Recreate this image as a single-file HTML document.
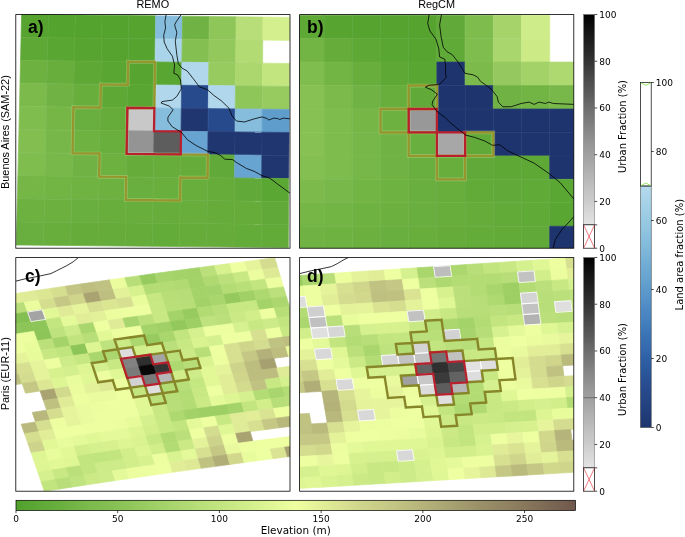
<!DOCTYPE html>
<html lang="en"><head><meta charset="utf-8"><title>Urban fraction, land area fraction and elevation: REMO vs RegCM</title>
<style>html,body{margin:0;padding:0;background:#fff}svg{display:block}</style></head><body>
<svg width="685" height="537" viewBox="0 0 685 537">
<defs>
<clipPath id="clipa"><rect x="15.8" y="14.6" width="274.2" height="233.6"/></clipPath>
<clipPath id="clipb"><rect x="299.6" y="14.6" width="274.2" height="233.6"/></clipPath>
<clipPath id="clipc"><rect x="15.8" y="257.6" width="274.2" height="233.6"/></clipPath>
<clipPath id="clipd"><rect x="299.6" y="257.6" width="274.2" height="233.6"/></clipPath>
<linearGradient id="gElev" x1="0" y1="0" x2="1" y2="0">
<stop offset="0" stop-color="#50a02c"/>
<stop offset="0.04" stop-color="#5da836"/>
<stop offset="0.08" stop-color="#6ab03f"/>
<stop offset="0.12" stop-color="#78b849"/>
<stop offset="0.17" stop-color="#85c053"/>
<stop offset="0.21" stop-color="#92c85c"/>
<stop offset="0.25" stop-color="#9fd066"/>
<stop offset="0.29" stop-color="#acd770"/>
<stop offset="0.33" stop-color="#b9df79"/>
<stop offset="0.38" stop-color="#c6e783"/>
<stop offset="0.42" stop-color="#d4ef8d"/>
<stop offset="0.46" stop-color="#e1f796"/>
<stop offset="0.5" stop-color="#eeffa0"/>
<stop offset="0.54" stop-color="#e4f199"/>
<stop offset="0.58" stop-color="#d9e392"/>
<stop offset="0.62" stop-color="#ced58b"/>
<stop offset="0.67" stop-color="#c4c784"/>
<stop offset="0.71" stop-color="#bab97d"/>
<stop offset="0.75" stop-color="#afac76"/>
<stop offset="0.79" stop-color="#a49e6f"/>
<stop offset="0.83" stop-color="#9a9068"/>
<stop offset="0.88" stop-color="#908261"/>
<stop offset="0.92" stop-color="#85745a"/>
<stop offset="0.96" stop-color="#7a6653"/>
<stop offset="1" stop-color="#70584c"/>
</linearGradient>
<linearGradient id="gGrey" x1="0" y1="1" x2="0" y2="0">
<stop offset="0" stop-color="#e4e4e4"/>
<stop offset="0.04" stop-color="#dbdbdb"/>
<stop offset="0.08" stop-color="#d3d3d3"/>
<stop offset="0.12" stop-color="#cacaca"/>
<stop offset="0.17" stop-color="#c2c2c2"/>
<stop offset="0.21" stop-color="#b9b9b9"/>
<stop offset="0.25" stop-color="#b1b1b1"/>
<stop offset="0.29" stop-color="#a8a8a8"/>
<stop offset="0.33" stop-color="#a0a0a0"/>
<stop offset="0.38" stop-color="#979797"/>
<stop offset="0.42" stop-color="#8d8d8d"/>
<stop offset="0.46" stop-color="#848484"/>
<stop offset="0.5" stop-color="#7a7a7a"/>
<stop offset="0.54" stop-color="#717171"/>
<stop offset="0.58" stop-color="#676767"/>
<stop offset="0.62" stop-color="#5c5c5c"/>
<stop offset="0.67" stop-color="#515151"/>
<stop offset="0.71" stop-color="#464646"/>
<stop offset="0.75" stop-color="#3b3b3b"/>
<stop offset="0.79" stop-color="#313131"/>
<stop offset="0.83" stop-color="#272727"/>
<stop offset="0.88" stop-color="#1d1d1d"/>
<stop offset="0.92" stop-color="#141414"/>
<stop offset="0.96" stop-color="#0a0a0a"/>
<stop offset="1" stop-color="#000000"/>
</linearGradient>
<linearGradient id="gBlue" x1="0" y1="1" x2="0" y2="0">
<stop offset="0" stop-color="#1e346e"/>
<stop offset="0.04" stop-color="#203a76"/>
<stop offset="0.08" stop-color="#23407e"/>
<stop offset="0.12" stop-color="#254686"/>
<stop offset="0.17" stop-color="#274c8f"/>
<stop offset="0.21" stop-color="#2a5397"/>
<stop offset="0.25" stop-color="#2c5a9f"/>
<stop offset="0.29" stop-color="#2f61a7"/>
<stop offset="0.33" stop-color="#356aae"/>
<stop offset="0.38" stop-color="#3a73b5"/>
<stop offset="0.42" stop-color="#407cbc"/>
<stop offset="0.46" stop-color="#4784c1"/>
<stop offset="0.5" stop-color="#4f8cc5"/>
<stop offset="0.54" stop-color="#5794c9"/>
<stop offset="0.58" stop-color="#5e9ccd"/>
<stop offset="0.62" stop-color="#67a4d0"/>
<stop offset="0.67" stop-color="#70abd4"/>
<stop offset="0.71" stop-color="#79b3d8"/>
<stop offset="0.75" stop-color="#82badb"/>
<stop offset="0.79" stop-color="#8ac0de"/>
<stop offset="0.83" stop-color="#93c6e1"/>
<stop offset="0.88" stop-color="#9ccce4"/>
<stop offset="0.92" stop-color="#a4d1e7"/>
<stop offset="0.96" stop-color="#add5ea"/>
<stop offset="1" stop-color="#b6daed"/>
</linearGradient>
</defs>
<rect width="685" height="537" fill="#fff"/>
<g clip-path="url(#clipa)">
<g shape-rendering="geometricPrecision">
<polygon points="21.6,14.3 48.42,14.61 47.93,37.67 21.07,37.37" fill="#56a330" stroke="#56a330" stroke-width="0.7"/>
<polygon points="48.42,14.61 75.24,14.92 74.79,37.98 47.93,37.67" fill="#55a32f" stroke="#55a32f" stroke-width="0.7"/>
<polygon points="75.24,14.92 102.06,15.23 101.64,38.29 74.79,37.98" fill="#55a32f" stroke="#55a32f" stroke-width="0.7"/>
<polygon points="102.06,15.23 128.88,15.54 128.5,38.59 101.64,38.29" fill="#55a32f" stroke="#55a32f" stroke-width="0.7"/>
<polygon points="128.88,15.54 155.7,15.85 155.36,38.9 128.5,38.59" fill="#56a330" stroke="#56a330" stroke-width="0.7"/>
<polygon points="155.7,15.85 182.52,16.16 182.22,39.2 155.36,38.9" fill="#86bddc" stroke="#86bddc" stroke-width="0.7"/>
<polygon points="182.52,16.16 209.34,16.47 209.08,39.51 182.22,39.2" fill="#70b344" stroke="#70b344" stroke-width="0.7"/>
<polygon points="209.34,16.47 236.16,16.78 235.93,39.81 209.08,39.51" fill="#8fc65a" stroke="#8fc65a" stroke-width="0.7"/>
<polygon points="236.16,16.78 262.98,17.09 262.79,40.11 235.93,39.81" fill="#b7de78" stroke="#b7de78" stroke-width="0.7"/>
<polygon points="262.98,17.09 289.8,17.4 289.65,40.42 262.79,40.11" fill="#d4ef8d" stroke="#d4ef8d" stroke-width="0.7"/>
<polygon points="21.07,37.37 47.93,37.67 47.44,60.74 20.54,60.44" fill="#5ea836" stroke="#5ea836" stroke-width="0.7"/>
<polygon points="47.93,37.67 74.79,37.98 74.33,61.04 47.44,60.74" fill="#59a633" stroke="#59a633" stroke-width="0.7"/>
<polygon points="74.79,37.98 101.64,38.29 101.23,61.34 74.33,61.04" fill="#57a431" stroke="#57a431" stroke-width="0.7"/>
<polygon points="101.64,38.29 128.5,38.59 128.12,61.64 101.23,61.34" fill="#56a330" stroke="#56a330" stroke-width="0.7"/>
<polygon points="128.5,38.59 155.36,38.9 155.02,61.94 128.12,61.64" fill="#56a330" stroke="#56a330" stroke-width="0.7"/>
<polygon points="155.36,38.9 182.22,39.2 181.92,62.24 155.02,61.94" fill="#aad4e9" stroke="#aad4e9" stroke-width="0.7"/>
<polygon points="182.22,39.2 209.08,39.51 208.81,62.54 181.92,62.24" fill="#84bf52" stroke="#84bf52" stroke-width="0.7"/>
<polygon points="209.08,39.51 235.93,39.81 235.71,62.84 208.81,62.54" fill="#93c85d" stroke="#93c85d" stroke-width="0.7"/>
<polygon points="235.93,39.81 262.79,40.11 262.6,63.14 235.71,62.84" fill="#b2db74" stroke="#b2db74" stroke-width="0.7"/>
<polygon points="20.54,60.44 47.44,60.74 46.94,83.8 20.01,83.51" fill="#6db141" stroke="#6db141" stroke-width="0.7"/>
<polygon points="47.44,60.74 74.33,61.04 73.88,84.1 46.94,83.8" fill="#67ae3d" stroke="#67ae3d" stroke-width="0.7"/>
<polygon points="74.33,61.04 101.23,61.34 100.81,84.39 73.88,84.1" fill="#5ea836" stroke="#5ea836" stroke-width="0.7"/>
<polygon points="101.23,61.34 128.12,61.64 127.75,84.69 100.81,84.39" fill="#59a633" stroke="#59a633" stroke-width="0.7"/>
<polygon points="128.12,61.64 155.02,61.94 154.68,84.98 127.75,84.69" fill="#57a431" stroke="#57a431" stroke-width="0.7"/>
<polygon points="155.02,61.94 181.92,62.24 181.61,85.28 154.68,84.98" fill="#59a633" stroke="#59a633" stroke-width="0.7"/>
<polygon points="181.92,62.24 208.81,62.54 208.55,85.57 181.61,85.28" fill="#b0d7eb" stroke="#b0d7eb" stroke-width="0.7"/>
<polygon points="208.81,62.54 235.71,62.84 235.48,85.87 208.55,85.57" fill="#97cb60" stroke="#97cb60" stroke-width="0.7"/>
<polygon points="235.71,62.84 262.6,63.14 262.42,86.16 235.48,85.87" fill="#acd76f" stroke="#acd76f" stroke-width="0.7"/>
<polygon points="262.6,63.14 289.5,63.44 289.35,86.46 262.42,86.16" fill="#c3e580" stroke="#c3e580" stroke-width="0.7"/>
<polygon points="20.01,83.51 46.94,83.8 46.45,106.87 19.48,106.58" fill="#7cba4c" stroke="#7cba4c" stroke-width="0.7"/>
<polygon points="46.94,83.8 73.88,84.1 73.42,107.16 46.45,106.87" fill="#70b344" stroke="#70b344" stroke-width="0.7"/>
<polygon points="73.88,84.1 100.81,84.39 100.4,107.45 73.42,107.16" fill="#67ae3d" stroke="#67ae3d" stroke-width="0.7"/>
<polygon points="100.81,84.39 127.75,84.69 127.37,107.74 100.4,107.45" fill="#5ea836" stroke="#5ea836" stroke-width="0.7"/>
<polygon points="127.75,84.69 154.68,84.98 154.34,108.03 127.37,107.74" fill="#59a633" stroke="#59a633" stroke-width="0.7"/>
<polygon points="154.68,84.98 181.61,85.28 181.31,108.32 154.34,108.03" fill="#b0d7eb" stroke="#b0d7eb" stroke-width="0.7"/>
<polygon points="181.61,85.28 208.55,85.57 208.28,108.61 181.31,108.32" fill="#274a8d" stroke="#274a8d" stroke-width="0.7"/>
<polygon points="208.55,85.57 235.48,85.87 235.26,108.9 208.28,108.61" fill="#b0d7eb" stroke="#b0d7eb" stroke-width="0.7"/>
<polygon points="235.48,85.87 262.42,86.16 262.23,109.19 235.26,108.9" fill="#8fc65a" stroke="#8fc65a" stroke-width="0.7"/>
<polygon points="262.42,86.16 289.35,86.46 289.2,109.48 262.23,109.19" fill="#97cb60" stroke="#97cb60" stroke-width="0.7"/>
<polygon points="19.48,106.58 46.45,106.87 45.96,129.94 18.95,129.65" fill="#80bd4f" stroke="#80bd4f" stroke-width="0.7"/>
<polygon points="46.45,106.87 73.42,107.16 72.97,130.22 45.96,129.94" fill="#75b647" stroke="#75b647" stroke-width="0.7"/>
<polygon points="73.42,107.16 100.4,107.45 99.98,130.5 72.97,130.22" fill="#69af3f" stroke="#69af3f" stroke-width="0.7"/>
<polygon points="100.4,107.45 127.37,107.74 126.99,130.79 99.98,130.5" fill="#65ac3b" stroke="#65ac3b" stroke-width="0.7"/>
<polygon points="127.37,107.74 154.34,108.03 154,131.08 126.99,130.79" fill="#c8c8c8" stroke="#c8c8c8" stroke-width="0.7"/>
<polygon points="154.34,108.03 181.31,108.32 181.01,131.36 154,131.08" fill="#86bddc" stroke="#86bddc" stroke-width="0.7"/>
<polygon points="181.31,108.32 208.28,108.61 208.02,131.64 181.01,131.36" fill="#1f3671" stroke="#1f3671" stroke-width="0.7"/>
<polygon points="208.28,108.61 235.26,108.9 235.03,131.93 208.02,131.64" fill="#274a8d" stroke="#274a8d" stroke-width="0.7"/>
<polygon points="235.26,108.9 262.23,109.19 262.04,132.22 235.03,131.93" fill="#86bddc" stroke="#86bddc" stroke-width="0.7"/>
<polygon points="262.23,109.19 289.2,109.48 289.05,132.5 262.04,132.22" fill="#5f9dcd" stroke="#5f9dcd" stroke-width="0.7"/>
<polygon points="18.95,129.65 45.96,129.94 45.47,153 18.42,152.72" fill="#83be51" stroke="#83be51" stroke-width="0.7"/>
<polygon points="45.96,129.94 72.97,130.22 72.52,153.28 45.47,153" fill="#77b749" stroke="#77b749" stroke-width="0.7"/>
<polygon points="72.97,130.22 99.98,130.5 99.56,153.56 72.52,153.28" fill="#6eb242" stroke="#6eb242" stroke-width="0.7"/>
<polygon points="99.98,130.5 126.99,130.79 126.61,153.84 99.56,153.56" fill="#68af3e" stroke="#68af3e" stroke-width="0.7"/>
<polygon points="126.99,130.79 154,131.08 153.66,154.12 126.61,153.84" fill="#949494" stroke="#949494" stroke-width="0.7"/>
<polygon points="154,131.08 181.01,131.36 180.71,154.4 153.66,154.12" fill="#5d5d5d" stroke="#5d5d5d" stroke-width="0.7"/>
<polygon points="181.01,131.36 208.02,131.64 207.76,154.68 180.71,154.4" fill="#68a4d1" stroke="#68a4d1" stroke-width="0.7"/>
<polygon points="208.02,131.64 235.03,131.93 234.8,154.96 207.76,154.68" fill="#1f3671" stroke="#1f3671" stroke-width="0.7"/>
<polygon points="235.03,131.93 262.04,132.22 261.85,155.24 234.8,154.96" fill="#1f3671" stroke="#1f3671" stroke-width="0.7"/>
<polygon points="262.04,132.22 289.05,132.5 288.9,155.52 261.85,155.24" fill="#1f3671" stroke="#1f3671" stroke-width="0.7"/>
<polygon points="18.42,152.72 45.47,153 44.98,176.06 17.89,175.79" fill="#80bd4f" stroke="#80bd4f" stroke-width="0.7"/>
<polygon points="45.47,153 72.52,153.28 72.06,176.34 44.98,176.06" fill="#78b84a" stroke="#78b84a" stroke-width="0.7"/>
<polygon points="72.52,153.28 99.56,153.56 99.15,176.61 72.06,176.34" fill="#70b344" stroke="#70b344" stroke-width="0.7"/>
<polygon points="99.56,153.56 126.61,153.84 126.23,176.89 99.15,176.61" fill="#6db141" stroke="#6db141" stroke-width="0.7"/>
<polygon points="126.61,153.84 153.66,154.12 153.32,177.16 126.23,176.89" fill="#65ac3b" stroke="#65ac3b" stroke-width="0.7"/>
<polygon points="153.66,154.12 180.71,154.4 180.41,177.44 153.32,177.16" fill="#66ad3c" stroke="#66ad3c" stroke-width="0.7"/>
<polygon points="180.71,154.4 207.76,154.68 207.49,177.71 180.41,177.44" fill="#65ac3b" stroke="#65ac3b" stroke-width="0.7"/>
<polygon points="207.76,154.68 234.8,154.96 234.58,177.99 207.49,177.71" fill="#61aa39" stroke="#61aa39" stroke-width="0.7"/>
<polygon points="234.8,154.96 261.85,155.24 261.66,178.27 234.58,177.99" fill="#68a4d1" stroke="#68a4d1" stroke-width="0.7"/>
<polygon points="261.85,155.24 288.9,155.52 288.75,178.54 261.66,178.27" fill="#1f3671" stroke="#1f3671" stroke-width="0.7"/>
<polygon points="17.89,175.79 44.98,176.06 44.48,199.13 17.36,198.86" fill="#75b647" stroke="#75b647" stroke-width="0.7"/>
<polygon points="44.98,176.06 72.06,176.34 71.61,199.4 44.48,199.13" fill="#72b545" stroke="#72b545" stroke-width="0.7"/>
<polygon points="72.06,176.34 99.15,176.61 98.73,199.67 71.61,199.4" fill="#6fb343" stroke="#6fb343" stroke-width="0.7"/>
<polygon points="99.15,176.61 126.23,176.89 125.86,199.94 98.73,199.67" fill="#6db141" stroke="#6db141" stroke-width="0.7"/>
<polygon points="126.23,176.89 153.32,177.16 152.98,200.21 125.86,199.94" fill="#69af3f" stroke="#69af3f" stroke-width="0.7"/>
<polygon points="153.32,177.16 180.41,177.44 180.1,200.48 152.98,200.21" fill="#68af3e" stroke="#68af3e" stroke-width="0.7"/>
<polygon points="180.41,177.44 207.49,177.71 207.23,200.75 180.1,200.48" fill="#67ae3d" stroke="#67ae3d" stroke-width="0.7"/>
<polygon points="207.49,177.71 234.58,177.99 234.35,201.02 207.23,200.75" fill="#65ac3b" stroke="#65ac3b" stroke-width="0.7"/>
<polygon points="234.58,177.99 261.66,178.27 261.48,201.29 234.35,201.02" fill="#61aa39" stroke="#61aa39" stroke-width="0.7"/>
<polygon points="261.66,178.27 288.75,178.54 288.6,201.56 261.48,201.29" fill="#5ba734" stroke="#5ba734" stroke-width="0.7"/>
<polygon points="17.36,198.86 44.48,199.13 43.99,222.2 16.83,221.93" fill="#6db141" stroke="#6db141" stroke-width="0.7"/>
<polygon points="44.48,199.13 71.61,199.4 71.15,222.46 43.99,222.2" fill="#6cb140" stroke="#6cb140" stroke-width="0.7"/>
<polygon points="71.61,199.4 98.73,199.67 98.32,222.72 71.15,222.46" fill="#69af3f" stroke="#69af3f" stroke-width="0.7"/>
<polygon points="98.73,199.67 125.86,199.94 125.48,222.99 98.32,222.72" fill="#67ae3d" stroke="#67ae3d" stroke-width="0.7"/>
<polygon points="125.86,199.94 152.98,200.21 152.64,223.26 125.48,222.99" fill="#67ae3d" stroke="#67ae3d" stroke-width="0.7"/>
<polygon points="152.98,200.21 180.1,200.48 179.8,223.52 152.64,223.26" fill="#66ad3c" stroke="#66ad3c" stroke-width="0.7"/>
<polygon points="180.1,200.48 207.23,200.75 206.96,223.78 179.8,223.52" fill="#67ae3d" stroke="#67ae3d" stroke-width="0.7"/>
<polygon points="207.23,200.75 234.35,201.02 234.13,224.05 206.96,223.78" fill="#65ac3b" stroke="#65ac3b" stroke-width="0.7"/>
<polygon points="234.35,201.02 261.48,201.29 261.29,224.31 234.13,224.05" fill="#65ac3b" stroke="#65ac3b" stroke-width="0.7"/>
<polygon points="261.48,201.29 288.6,201.56 288.45,224.58 261.29,224.31" fill="#61aa39" stroke="#61aa39" stroke-width="0.7"/>
<polygon points="16.83,221.93 43.99,222.2 43.5,245.26 16.3,245" fill="#69af3f" stroke="#69af3f" stroke-width="0.7"/>
<polygon points="43.99,222.2 71.15,222.46 70.7,245.52 43.5,245.26" fill="#67ae3d" stroke="#67ae3d" stroke-width="0.7"/>
<polygon points="71.15,222.46 98.32,222.72 97.9,245.78 70.7,245.52" fill="#65ac3b" stroke="#65ac3b" stroke-width="0.7"/>
<polygon points="98.32,222.72 125.48,222.99 125.1,246.04 97.9,245.78" fill="#65ac3b" stroke="#65ac3b" stroke-width="0.7"/>
<polygon points="125.48,222.99 152.64,223.26 152.3,246.3 125.1,246.04" fill="#65ac3b" stroke="#65ac3b" stroke-width="0.7"/>
<polygon points="152.64,223.26 179.8,223.52 179.5,246.56 152.3,246.3" fill="#64ac3a" stroke="#64ac3a" stroke-width="0.7"/>
<polygon points="179.8,223.52 206.96,223.78 206.7,246.82 179.5,246.56" fill="#65ac3b" stroke="#65ac3b" stroke-width="0.7"/>
<polygon points="206.96,223.78 234.13,224.05 233.9,247.08 206.7,246.82" fill="#65ac3b" stroke="#65ac3b" stroke-width="0.7"/>
<polygon points="234.13,224.05 261.29,224.31 261.1,247.34 233.9,247.08" fill="#64ac3a" stroke="#64ac3a" stroke-width="0.7"/>
<polygon points="261.29,224.31 288.45,224.58 288.3,247.6 261.1,247.34" fill="#62ab39" stroke="#62ab39" stroke-width="0.7"/>
</g>
<path d="M21.6 14.3L289.8 17.4M21.07 37.37L289.65 40.42M20.54 60.44L289.5 63.44M20.01 83.51L289.35 86.46M19.48 106.58L289.2 109.48M18.95 129.65L289.05 132.5M18.42 152.72L288.9 155.52M17.89 175.79L288.75 178.54M17.36 198.86L288.6 201.56M16.83 221.93L288.45 224.58M16.3 245L288.3 247.6M21.6 14.3L16.3 245M48.42 14.61L43.5 245.26M75.24 14.92L70.7 245.52M102.06 15.23L97.9 245.78M128.88 15.54L125.1 246.04M155.7 15.85L152.3 246.3M182.52 16.16L179.5 246.56M209.34 16.47L206.7 246.82M236.16 16.78L233.9 247.08M262.98 17.09L261.1 247.34M289.8 17.4L288.3 247.6" fill="none" stroke="#ffffff" stroke-opacity="0.08" stroke-width="0.6"/>
<path d="M73.42 107.16L100.4 107.45M73.42 107.16L72.97 130.22M127.37 107.74L126.99 130.79M127.37 107.74L154.34 108.03M154.68 84.98L154.34 108.03M126.61 153.84L153.66 154.12M128.12 61.64L155.02 61.94M128.12 61.64L127.75 84.69M155.02 61.94L154.68 84.98M152.98 200.21L180.1 200.48M180.41 177.44L180.1 200.48M100.81 84.39L127.75 84.69M100.81 84.39L100.4 107.45M153.66 154.12L180.71 154.4M99.15 176.61L126.23 176.89M99.56 153.56L99.15 176.61M180.71 154.4L207.76 154.68M180.41 177.44L207.49 177.71M207.76 154.68L207.49 177.71M72.52 153.28L99.56 153.56M72.97 130.22L72.52 153.28M125.86 199.94L152.98 200.21M126.23 176.89L125.86 199.94M126.99 130.79L126.61 153.84" fill="none" stroke="#f4ffd0" stroke-opacity="0.28" stroke-width="3.7" stroke-linecap="square"/>
<path d="M73.42 107.16L100.4 107.45M73.42 107.16L72.97 130.22M127.37 107.74L126.99 130.79M127.37 107.74L154.34 108.03M154.68 84.98L154.34 108.03M126.61 153.84L153.66 154.12M128.12 61.64L155.02 61.94M128.12 61.64L127.75 84.69M155.02 61.94L154.68 84.98M152.98 200.21L180.1 200.48M180.41 177.44L180.1 200.48M100.81 84.39L127.75 84.69M100.81 84.39L100.4 107.45M153.66 154.12L180.71 154.4M99.15 176.61L126.23 176.89M99.56 153.56L99.15 176.61M180.71 154.4L207.76 154.68M180.41 177.44L207.49 177.71M207.76 154.68L207.49 177.71M72.52 153.28L99.56 153.56M72.97 130.22L72.52 153.28M125.86 199.94L152.98 200.21M126.23 176.89L125.86 199.94M126.99 130.79L126.61 153.84" fill="none" stroke="#96962e" stroke-width="2.4" stroke-linecap="square"/>
<path d="M127.37 107.74L154.34 108.03M127.37 107.74L126.99 130.79M154.34 108.03L154 131.08M126.61 153.84L153.66 154.12M126.99 130.79L126.61 153.84M154 131.08L181.01 131.36M153.66 154.12L180.71 154.4M181.01 131.36L180.71 154.4" fill="none" stroke="#b9202e" stroke-width="2.3" stroke-linecap="square"/>
<polyline points="166.1,14.5 164.9,21.9 165.6,27.9 163.7,35.3 164.2,42 167.1,48.7 172.4,56.2 174.6,65.1 173.8,73.3 177.6,74.8 180.6,80 181.3,88.9 176.8,96.4 172.4,100.1 161.9,101.6 161.2,103.1 169.4,106.1 173.1,109.8 167.9,117.3 167.9,121 172.4,126.9 181.3,132.2 187.3,139.6 196.2,145.6 208.1,151.5 215,152.7 220.9,155.7 224.8,159.2 232.6,159.6 236.5,162.5 246.3,168.4 254.1,171.3 262,175.6 269.8,178.2 277.6,184 290.4,193.5" fill="none" stroke="#000" stroke-width="0.8" stroke-linejoin="round"/>
<polyline points="181.3,14.5 176.1,21.9 174.6,24.9 176.8,32.4 175.3,41.3 176.8,54.7 178.3,63.7 182,68.1 187.3,71.1 193.2,78.6 197.7,84.5 199.2,86.7 207.4,89.7 214.1,95.6 221.5,100.9 229,108.3 232,115.8 236.4,121 244.4,122 254.1,118.9 262,116.9 266.9,118.5 268.8,120 273.7,118.1 277.6,118.5 279.6,119.5 283.5,118.1 290.4,118.9" fill="none" stroke="#000" stroke-width="0.8" stroke-linejoin="round"/>
</g>
<rect x="15.8" y="14.6" width="274.2" height="233.6" fill="none" stroke="#000" stroke-width="0.8"/>
<text x="28.1" y="33" font-family="Liberation Sans, sans-serif" font-weight="bold" font-size="17.5" fill="#000">a)</text>
<g clip-path="url(#clipb)">
<g shape-rendering="geometricPrecision">
<polygon points="295.9,15.2 324.1,15.2 324.1,38.65 295.9,38.65" fill="#5ea836" stroke="#5ea836" stroke-width="0.7"/>
<polygon points="324.1,15.2 352.3,15.2 352.3,38.65 324.1,38.65" fill="#57a431" stroke="#57a431" stroke-width="0.7"/>
<polygon points="352.3,15.2 380.5,15.2 380.5,38.65 352.3,38.65" fill="#56a330" stroke="#56a330" stroke-width="0.7"/>
<polygon points="380.5,15.2 408.7,15.2 408.7,38.65 380.5,38.65" fill="#56a330" stroke="#56a330" stroke-width="0.7"/>
<polygon points="408.7,15.2 436.9,15.2 436.9,38.65 408.7,38.65" fill="#56a330" stroke="#56a330" stroke-width="0.7"/>
<polygon points="436.9,15.2 465.1,15.2 465.1,38.65 436.9,38.65" fill="#61aa39" stroke="#61aa39" stroke-width="0.7"/>
<polygon points="465.1,15.2 493.3,15.2 493.3,38.65 465.1,38.65" fill="#7ebc4e" stroke="#7ebc4e" stroke-width="0.7"/>
<polygon points="493.3,15.2 521.5,15.2 521.5,38.65 493.3,38.65" fill="#a6d46b" stroke="#a6d46b" stroke-width="0.7"/>
<polygon points="521.5,15.2 549.7,15.2 549.7,38.65 521.5,38.65" fill="#ceec89" stroke="#ceec89" stroke-width="0.7"/>
<polygon points="295.9,38.65 324.1,38.65 324.1,62.1 295.9,62.1" fill="#72b545" stroke="#72b545" stroke-width="0.7"/>
<polygon points="324.1,38.65 352.3,38.65 352.3,62.1 324.1,62.1" fill="#65ac3b" stroke="#65ac3b" stroke-width="0.7"/>
<polygon points="352.3,38.65 380.5,38.65 380.5,62.1 352.3,62.1" fill="#5ea836" stroke="#5ea836" stroke-width="0.7"/>
<polygon points="380.5,38.65 408.7,38.65 408.7,62.1 380.5,62.1" fill="#59a633" stroke="#59a633" stroke-width="0.7"/>
<polygon points="408.7,38.65 436.9,38.65 436.9,62.1 408.7,62.1" fill="#57a431" stroke="#57a431" stroke-width="0.7"/>
<polygon points="436.9,38.65 465.1,38.65 465.1,62.1 436.9,62.1" fill="#60aa38" stroke="#60aa38" stroke-width="0.7"/>
<polygon points="465.1,38.65 493.3,38.65 493.3,62.1 465.1,62.1" fill="#80bd4f" stroke="#80bd4f" stroke-width="0.7"/>
<polygon points="493.3,38.65 521.5,38.65 521.5,62.1 493.3,62.1" fill="#aad66e" stroke="#aad66e" stroke-width="0.7"/>
<polygon points="521.5,38.65 549.7,38.65 549.7,62.1 521.5,62.1" fill="#cceb87" stroke="#cceb87" stroke-width="0.7"/>
<polygon points="295.9,62.1 324.1,62.1 324.1,85.55 295.9,85.55" fill="#80bd4f" stroke="#80bd4f" stroke-width="0.7"/>
<polygon points="324.1,62.1 352.3,62.1 352.3,85.55 324.1,85.55" fill="#72b545" stroke="#72b545" stroke-width="0.7"/>
<polygon points="352.3,62.1 380.5,62.1 380.5,85.55 352.3,85.55" fill="#67ae3d" stroke="#67ae3d" stroke-width="0.7"/>
<polygon points="380.5,62.1 408.7,62.1 408.7,85.55 380.5,85.55" fill="#5ea836" stroke="#5ea836" stroke-width="0.7"/>
<polygon points="408.7,62.1 436.9,62.1 436.9,85.55 408.7,85.55" fill="#59a633" stroke="#59a633" stroke-width="0.7"/>
<polygon points="436.9,62.1 465.1,62.1 465.1,85.55 436.9,85.55" fill="#1e346e" stroke="#1e346e" stroke-width="0.7"/>
<polygon points="465.1,62.1 493.3,62.1 493.3,85.55 465.1,85.55" fill="#7cba4c" stroke="#7cba4c" stroke-width="0.7"/>
<polygon points="493.3,62.1 521.5,62.1 521.5,85.55 493.3,85.55" fill="#95c95f" stroke="#95c95f" stroke-width="0.7"/>
<polygon points="521.5,62.1 549.7,62.1 549.7,85.55 521.5,85.55" fill="#a3d269" stroke="#a3d269" stroke-width="0.7"/>
<polygon points="549.7,62.1 577.9,62.1 577.9,85.55 549.7,85.55" fill="#aed971" stroke="#aed971" stroke-width="0.7"/>
<polygon points="295.9,85.55 324.1,85.55 324.1,109 295.9,109" fill="#87c154" stroke="#87c154" stroke-width="0.7"/>
<polygon points="324.1,85.55 352.3,85.55 352.3,109 324.1,109" fill="#7cba4c" stroke="#7cba4c" stroke-width="0.7"/>
<polygon points="352.3,85.55 380.5,85.55 380.5,109 352.3,109" fill="#70b344" stroke="#70b344" stroke-width="0.7"/>
<polygon points="380.5,85.55 408.7,85.55 408.7,109 380.5,109" fill="#67ae3d" stroke="#67ae3d" stroke-width="0.7"/>
<polygon points="408.7,85.55 436.9,85.55 436.9,109 408.7,109" fill="#61aa39" stroke="#61aa39" stroke-width="0.7"/>
<polygon points="436.9,85.55 465.1,85.55 465.1,109 436.9,109" fill="#1e346e" stroke="#1e346e" stroke-width="0.7"/>
<polygon points="465.1,85.55 493.3,85.55 493.3,109 465.1,109" fill="#1e346e" stroke="#1e346e" stroke-width="0.7"/>
<polygon points="493.3,85.55 521.5,85.55 521.5,109 493.3,109" fill="#70b344" stroke="#70b344" stroke-width="0.7"/>
<polygon points="521.5,85.55 549.7,85.55 549.7,109 521.5,109" fill="#72b545" stroke="#72b545" stroke-width="0.7"/>
<polygon points="549.7,85.55 577.9,85.55 577.9,109 549.7,109" fill="#78b84a" stroke="#78b84a" stroke-width="0.7"/>
<polygon points="295.9,109 324.1,109 324.1,132.45 295.9,132.45" fill="#87c154" stroke="#87c154" stroke-width="0.7"/>
<polygon points="324.1,109 352.3,109 352.3,132.45 324.1,132.45" fill="#7ebc4e" stroke="#7ebc4e" stroke-width="0.7"/>
<polygon points="352.3,109 380.5,109 380.5,132.45 352.3,132.45" fill="#75b647" stroke="#75b647" stroke-width="0.7"/>
<polygon points="380.5,109 408.7,109 408.7,132.45 380.5,132.45" fill="#6db141" stroke="#6db141" stroke-width="0.7"/>
<polygon points="408.7,109 436.9,109 436.9,132.45 408.7,132.45" fill="#989898" stroke="#989898" stroke-width="0.7"/>
<polygon points="436.9,109 465.1,109 465.1,132.45 436.9,132.45" fill="#1e346e" stroke="#1e346e" stroke-width="0.7"/>
<polygon points="465.1,109 493.3,109 493.3,132.45 465.1,132.45" fill="#1e346e" stroke="#1e346e" stroke-width="0.7"/>
<polygon points="493.3,109 521.5,109 521.5,132.45 493.3,132.45" fill="#1e346e" stroke="#1e346e" stroke-width="0.7"/>
<polygon points="521.5,109 549.7,109 549.7,132.45 521.5,132.45" fill="#1e346e" stroke="#1e346e" stroke-width="0.7"/>
<polygon points="549.7,109 577.9,109 577.9,132.45 549.7,132.45" fill="#1e346e" stroke="#1e346e" stroke-width="0.7"/>
<polygon points="295.9,132.45 324.1,132.45 324.1,155.9 295.9,155.9" fill="#87c154" stroke="#87c154" stroke-width="0.7"/>
<polygon points="324.1,132.45 352.3,132.45 352.3,155.9 324.1,155.9" fill="#7ebc4e" stroke="#7ebc4e" stroke-width="0.7"/>
<polygon points="352.3,132.45 380.5,132.45 380.5,155.9 352.3,155.9" fill="#77b749" stroke="#77b749" stroke-width="0.7"/>
<polygon points="380.5,132.45 408.7,132.45 408.7,155.9 380.5,155.9" fill="#70b344" stroke="#70b344" stroke-width="0.7"/>
<polygon points="408.7,132.45 436.9,132.45 436.9,155.9 408.7,155.9" fill="#69af3f" stroke="#69af3f" stroke-width="0.7"/>
<polygon points="436.9,132.45 465.1,132.45 465.1,155.9 436.9,155.9" fill="#a7a7a7" stroke="#a7a7a7" stroke-width="0.7"/>
<polygon points="465.1,132.45 493.3,132.45 493.3,155.9 465.1,155.9" fill="#61aa39" stroke="#61aa39" stroke-width="0.7"/>
<polygon points="493.3,132.45 521.5,132.45 521.5,155.9 493.3,155.9" fill="#1e346e" stroke="#1e346e" stroke-width="0.7"/>
<polygon points="521.5,132.45 549.7,132.45 549.7,155.9 521.5,155.9" fill="#1e346e" stroke="#1e346e" stroke-width="0.7"/>
<polygon points="549.7,132.45 577.9,132.45 577.9,155.9 549.7,155.9" fill="#1e346e" stroke="#1e346e" stroke-width="0.7"/>
<polygon points="295.9,155.9 324.1,155.9 324.1,179.35 295.9,179.35" fill="#84bf52" stroke="#84bf52" stroke-width="0.7"/>
<polygon points="324.1,155.9 352.3,155.9 352.3,179.35 324.1,179.35" fill="#7ebc4e" stroke="#7ebc4e" stroke-width="0.7"/>
<polygon points="352.3,155.9 380.5,155.9 380.5,179.35 352.3,179.35" fill="#77b749" stroke="#77b749" stroke-width="0.7"/>
<polygon points="380.5,155.9 408.7,155.9 408.7,179.35 380.5,179.35" fill="#70b344" stroke="#70b344" stroke-width="0.7"/>
<polygon points="408.7,155.9 436.9,155.9 436.9,179.35 408.7,179.35" fill="#69af3f" stroke="#69af3f" stroke-width="0.7"/>
<polygon points="436.9,155.9 465.1,155.9 465.1,179.35 436.9,179.35" fill="#67ae3d" stroke="#67ae3d" stroke-width="0.7"/>
<polygon points="465.1,155.9 493.3,155.9 493.3,179.35 465.1,179.35" fill="#61aa39" stroke="#61aa39" stroke-width="0.7"/>
<polygon points="493.3,155.9 521.5,155.9 521.5,179.35 493.3,179.35" fill="#5ea836" stroke="#5ea836" stroke-width="0.7"/>
<polygon points="521.5,155.9 549.7,155.9 549.7,179.35 521.5,179.35" fill="#5ea836" stroke="#5ea836" stroke-width="0.7"/>
<polygon points="549.7,155.9 577.9,155.9 577.9,179.35 549.7,179.35" fill="#1e346e" stroke="#1e346e" stroke-width="0.7"/>
<polygon points="295.9,179.35 324.1,179.35 324.1,202.8 295.9,202.8" fill="#7cba4c" stroke="#7cba4c" stroke-width="0.7"/>
<polygon points="324.1,179.35 352.3,179.35 352.3,202.8 324.1,202.8" fill="#78b84a" stroke="#78b84a" stroke-width="0.7"/>
<polygon points="352.3,179.35 380.5,179.35 380.5,202.8 352.3,202.8" fill="#72b545" stroke="#72b545" stroke-width="0.7"/>
<polygon points="380.5,179.35 408.7,179.35 408.7,202.8 380.5,202.8" fill="#6eb242" stroke="#6eb242" stroke-width="0.7"/>
<polygon points="408.7,179.35 436.9,179.35 436.9,202.8 408.7,202.8" fill="#69af3f" stroke="#69af3f" stroke-width="0.7"/>
<polygon points="436.9,179.35 465.1,179.35 465.1,202.8 436.9,202.8" fill="#67ae3d" stroke="#67ae3d" stroke-width="0.7"/>
<polygon points="465.1,179.35 493.3,179.35 493.3,202.8 465.1,202.8" fill="#62ab39" stroke="#62ab39" stroke-width="0.7"/>
<polygon points="493.3,179.35 521.5,179.35 521.5,202.8 493.3,202.8" fill="#61aa39" stroke="#61aa39" stroke-width="0.7"/>
<polygon points="521.5,179.35 549.7,179.35 549.7,202.8 521.5,202.8" fill="#60aa38" stroke="#60aa38" stroke-width="0.7"/>
<polygon points="549.7,179.35 577.9,179.35 577.9,202.8 549.7,202.8" fill="#5ba734" stroke="#5ba734" stroke-width="0.7"/>
<polygon points="295.9,202.8 324.1,202.8 324.1,226.25 295.9,226.25" fill="#75b647" stroke="#75b647" stroke-width="0.7"/>
<polygon points="324.1,202.8 352.3,202.8 352.3,226.25 324.1,226.25" fill="#72b545" stroke="#72b545" stroke-width="0.7"/>
<polygon points="352.3,202.8 380.5,202.8 380.5,226.25 352.3,226.25" fill="#6eb242" stroke="#6eb242" stroke-width="0.7"/>
<polygon points="380.5,202.8 408.7,202.8 408.7,226.25 380.5,226.25" fill="#6cb140" stroke="#6cb140" stroke-width="0.7"/>
<polygon points="408.7,202.8 436.9,202.8 436.9,226.25 408.7,226.25" fill="#69af3f" stroke="#69af3f" stroke-width="0.7"/>
<polygon points="436.9,202.8 465.1,202.8 465.1,226.25 436.9,226.25" fill="#67ae3d" stroke="#67ae3d" stroke-width="0.7"/>
<polygon points="465.1,202.8 493.3,202.8 493.3,226.25 465.1,226.25" fill="#65ac3b" stroke="#65ac3b" stroke-width="0.7"/>
<polygon points="493.3,202.8 521.5,202.8 521.5,226.25 493.3,226.25" fill="#62ab39" stroke="#62ab39" stroke-width="0.7"/>
<polygon points="521.5,202.8 549.7,202.8 549.7,226.25 521.5,226.25" fill="#60aa38" stroke="#60aa38" stroke-width="0.7"/>
<polygon points="549.7,202.8 577.9,202.8 577.9,226.25 549.7,226.25" fill="#59a633" stroke="#59a633" stroke-width="0.7"/>
<polygon points="295.9,226.25 324.1,226.25 324.1,249.7 295.9,249.7" fill="#70b344" stroke="#70b344" stroke-width="0.7"/>
<polygon points="324.1,226.25 352.3,226.25 352.3,249.7 324.1,249.7" fill="#6eb242" stroke="#6eb242" stroke-width="0.7"/>
<polygon points="352.3,226.25 380.5,226.25 380.5,249.7 352.3,249.7" fill="#6cb140" stroke="#6cb140" stroke-width="0.7"/>
<polygon points="380.5,226.25 408.7,226.25 408.7,249.7 380.5,249.7" fill="#69af3f" stroke="#69af3f" stroke-width="0.7"/>
<polygon points="408.7,226.25 436.9,226.25 436.9,249.7 408.7,249.7" fill="#67ae3d" stroke="#67ae3d" stroke-width="0.7"/>
<polygon points="436.9,226.25 465.1,226.25 465.1,249.7 436.9,249.7" fill="#65ac3b" stroke="#65ac3b" stroke-width="0.7"/>
<polygon points="465.1,226.25 493.3,226.25 493.3,249.7 465.1,249.7" fill="#64ac3a" stroke="#64ac3a" stroke-width="0.7"/>
<polygon points="493.3,226.25 521.5,226.25 521.5,249.7 493.3,249.7" fill="#62ab39" stroke="#62ab39" stroke-width="0.7"/>
<polygon points="521.5,226.25 549.7,226.25 549.7,249.7 521.5,249.7" fill="#61aa39" stroke="#61aa39" stroke-width="0.7"/>
<polygon points="549.7,226.25 577.9,226.25 577.9,249.7 549.7,249.7" fill="#1e346e" stroke="#1e346e" stroke-width="0.7"/>
</g>
<path d="M295.9 15.2L577.9 15.2M295.9 38.65L577.9 38.65M295.9 62.1L577.9 62.1M295.9 85.55L577.9 85.55M295.9 109L577.9 109M295.9 132.45L577.9 132.45M295.9 155.9L577.9 155.9M295.9 179.35L577.9 179.35M295.9 202.8L577.9 202.8M295.9 226.25L577.9 226.25M295.9 249.7L577.9 249.7M295.9 15.2L295.9 249.7M324.1 15.2L324.1 249.7M352.3 15.2L352.3 249.7M380.5 15.2L380.5 249.7M408.7 15.2L408.7 249.7M436.9 15.2L436.9 249.7M465.1 15.2L465.1 249.7M493.3 15.2L493.3 249.7M521.5 15.2L521.5 249.7M549.7 15.2L549.7 249.7M577.9 15.2L577.9 249.7" fill="none" stroke="#ffffff" stroke-opacity="0.08" stroke-width="0.6"/>
<path d="M380.5 109L408.7 109M380.5 132.45L408.7 132.45M380.5 109L380.5 132.45M408.7 109L408.7 132.45M465.1 132.45L493.3 132.45M465.1 155.9L493.3 155.9M465.1 132.45L465.1 155.9M493.3 132.45L493.3 155.9M408.7 85.55L436.9 85.55M408.7 109L436.9 109M408.7 85.55L408.7 109M436.9 85.55L436.9 109M408.7 132.45L436.9 132.45M408.7 155.9L436.9 155.9M408.7 132.45L408.7 155.9M436.9 132.45L436.9 155.9M436.9 155.9L465.1 155.9M436.9 179.35L465.1 179.35M436.9 155.9L436.9 179.35M465.1 155.9L465.1 179.35" fill="none" stroke="#f4ffd0" stroke-opacity="0.28" stroke-width="3.7" stroke-linecap="square"/>
<path d="M380.5 109L408.7 109M380.5 132.45L408.7 132.45M380.5 109L380.5 132.45M408.7 109L408.7 132.45M465.1 132.45L493.3 132.45M465.1 155.9L493.3 155.9M465.1 132.45L465.1 155.9M493.3 132.45L493.3 155.9M408.7 85.55L436.9 85.55M408.7 109L436.9 109M408.7 85.55L408.7 109M436.9 85.55L436.9 109M408.7 132.45L436.9 132.45M408.7 155.9L436.9 155.9M408.7 132.45L408.7 155.9M436.9 132.45L436.9 155.9M436.9 155.9L465.1 155.9M436.9 179.35L465.1 179.35M436.9 155.9L436.9 179.35M465.1 155.9L465.1 179.35" fill="none" stroke="#96962e" stroke-width="2.4" stroke-linecap="square"/>
<path d="M408.7 109L436.9 109M408.7 132.45L436.9 132.45M408.7 109L408.7 132.45M436.9 109L436.9 132.45M436.9 132.45L465.1 132.45M436.9 155.9L465.1 155.9M436.9 132.45L436.9 155.9M465.1 132.45L465.1 155.9" fill="none" stroke="#b9202e" stroke-width="2.3" stroke-linecap="square"/>
<polyline points="429.2,14.5 427.7,23.4 429.9,30.9 435.9,39.1 438.8,48.7 439.6,56.9 444.8,59.2 445.6,66.6 445.6,74.1 446.3,77.1 441.1,83 438.8,84.5 429.2,85.2 425.4,87.2 431.4,89.7 437.4,94.2 432.9,100.9 432.1,104.6 437.4,112 444.8,117.3 450.8,123.2 458.2,129.2 465.7,135.1 474.6,137.4 485,141.1 492.5,145.3 499.9,144.8 508,151 517.8,155.6 534.1,163.1 550.4,174.5 560.1,182.6 574.3,199.5" fill="none" stroke="#000" stroke-width="0.8" stroke-linejoin="round"/>
<polyline points="441.5,14.5 439.6,24.9 441.1,36.8 443.3,47.3 447,51.7 452.3,54.7 458.2,62.2 462.7,69.6 464.9,73.3 473.1,74.8 477.6,77.1 480.6,81.5 485,84.5 491,88.9 497,96.4 498.5,102.4 502.9,106.8 511.3,106.7 521.1,103.5 529.2,102.1 534.1,104.4 539,102.1 545.5,103.5 548.7,102.1 553.6,103.5 574.3,104.4" fill="none" stroke="#000" stroke-width="0.8" stroke-linejoin="round"/>
<polyline points="574.3,216.3 561.8,229.8 555.3,239.6 553,248.5" fill="none" stroke="#000" stroke-width="0.8" stroke-linejoin="round"/>
</g>
<rect x="299.6" y="14.6" width="274.2" height="233.6" fill="none" stroke="#000" stroke-width="0.8"/>
<text x="307" y="33" font-family="Liberation Sans, sans-serif" font-weight="bold" font-size="17.5" fill="#000">b)</text>
<g clip-path="url(#clipc)">
<g shape-rendering="geometricPrecision">
<polygon points="5.86,295.09 20.68,292.85 24.13,302.44 9.35,304.68" fill="#e1ee97" stroke="#e1ee97" stroke-width="0.7"/>
<polygon points="20.68,292.85 35.51,290.62 38.93,300.21 24.13,302.44" fill="#dfeb96" stroke="#dfeb96" stroke-width="0.7"/>
<polygon points="35.51,290.62 50.36,288.41 53.75,298.01 38.93,300.21" fill="#dce794" stroke="#dce794" stroke-width="0.7"/>
<polygon points="50.36,288.41 65.22,286.23 68.58,295.83 53.75,298.01" fill="#d5de8f" stroke="#d5de8f" stroke-width="0.7"/>
<polygon points="65.22,286.23 80.1,284.07 83.43,293.67 68.58,295.83" fill="#c2c583" stroke="#c2c583" stroke-width="0.7"/>
<polygon points="80.1,284.07 94.99,281.92 98.29,291.54 83.43,293.67" fill="#bdbe7f" stroke="#bdbe7f" stroke-width="0.7"/>
<polygon points="94.99,281.92 109.9,279.8 113.17,289.42 98.29,291.54" fill="#c0c282" stroke="#c0c282" stroke-width="0.7"/>
<polygon points="109.9,279.8 124.82,277.7 128.06,287.33 113.17,289.42" fill="#ebfc9e" stroke="#ebfc9e" stroke-width="0.7"/>
<polygon points="124.82,277.7 139.76,275.63 142.96,285.25 128.06,287.33" fill="#b7de78" stroke="#b7de78" stroke-width="0.7"/>
<polygon points="139.76,275.63 154.71,273.57 157.88,283.2 142.96,285.25" fill="#97cb60" stroke="#97cb60" stroke-width="0.7"/>
<polygon points="154.71,273.57 169.67,271.53 172.81,281.17 157.88,283.2" fill="#a8d56d" stroke="#a8d56d" stroke-width="0.7"/>
<polygon points="169.67,271.53 184.65,269.52 187.76,279.16 172.81,281.17" fill="#a4d36a" stroke="#a4d36a" stroke-width="0.7"/>
<polygon points="184.65,269.52 199.64,267.53 202.72,277.17 187.76,279.16" fill="#a3d269" stroke="#a3d269" stroke-width="0.7"/>
<polygon points="199.64,267.53 214.65,265.56 217.69,275.21 202.72,277.17" fill="#bbe07b" stroke="#bbe07b" stroke-width="0.7"/>
<polygon points="214.65,265.56 229.67,263.61 232.68,273.26 217.69,275.21" fill="#d7f18f" stroke="#d7f18f" stroke-width="0.7"/>
<polygon points="229.67,263.61 244.7,261.68 247.68,271.34 232.68,273.26" fill="#edffa0" stroke="#edffa0" stroke-width="0.7"/>
<polygon points="244.7,261.68 259.75,259.77 262.7,269.44 247.68,271.34" fill="#e5f39a" stroke="#e5f39a" stroke-width="0.7"/>
<polygon points="259.75,259.77 274.81,257.89 277.72,267.56 262.7,269.44" fill="#d4dc8f" stroke="#d4dc8f" stroke-width="0.7"/>
<polygon points="9.35,304.68 24.13,302.44 27.57,312.02 12.81,314.26" fill="#b7de78" stroke="#b7de78" stroke-width="0.7"/>
<polygon points="24.13,302.44 38.93,300.21 42.34,309.81 27.57,312.02" fill="#ebfc9e" stroke="#ebfc9e" stroke-width="0.7"/>
<polygon points="38.93,300.21 53.75,298.01 57.13,307.61 42.34,309.81" fill="#d5de8f" stroke="#d5de8f" stroke-width="0.7"/>
<polygon points="53.75,298.01 68.58,295.83 71.93,305.44 57.13,307.61" fill="#c4c884" stroke="#c4c884" stroke-width="0.7"/>
<polygon points="68.58,295.83 83.43,293.67 86.74,303.28 71.93,305.44" fill="#cfd68b" stroke="#cfd68b" stroke-width="0.7"/>
<polygon points="83.43,293.67 98.29,291.54 101.57,301.15 86.74,303.28" fill="#a9a372" stroke="#a9a372" stroke-width="0.7"/>
<polygon points="98.29,291.54 113.17,289.42 116.42,299.04 101.57,301.15" fill="#bdbe7f" stroke="#bdbe7f" stroke-width="0.7"/>
<polygon points="113.17,289.42 128.06,287.33 131.28,296.95 116.42,299.04" fill="#e3f199" stroke="#e3f199" stroke-width="0.7"/>
<polygon points="128.06,287.33 142.96,285.25 146.15,294.88 131.28,296.95" fill="#d7f18f" stroke="#d7f18f" stroke-width="0.7"/>
<polygon points="142.96,285.25 157.88,283.2 161.04,292.83 146.15,294.88" fill="#b3dc75" stroke="#b3dc75" stroke-width="0.7"/>
<polygon points="157.88,283.2 172.81,281.17 175.94,290.81 161.04,292.83" fill="#b3dc75" stroke="#b3dc75" stroke-width="0.7"/>
<polygon points="172.81,281.17 187.76,279.16 190.85,288.8 175.94,290.81" fill="#b1da73" stroke="#b1da73" stroke-width="0.7"/>
<polygon points="187.76,279.16 202.72,277.17 205.78,286.82 190.85,288.8" fill="#a3d269" stroke="#a3d269" stroke-width="0.7"/>
<polygon points="202.72,277.17 217.69,275.21 220.72,284.85 205.78,286.82" fill="#b0d972" stroke="#b0d972" stroke-width="0.7"/>
<polygon points="217.69,275.21 232.68,273.26 235.68,282.91 220.72,284.85" fill="#bbe07b" stroke="#bbe07b" stroke-width="0.7"/>
<polygon points="232.68,273.26 247.68,271.34 250.65,281 235.68,282.91" fill="#c8e884" stroke="#c8e884" stroke-width="0.7"/>
<polygon points="247.68,271.34 262.7,269.44 265.63,279.1 250.65,281" fill="#ebfd9e" stroke="#ebfd9e" stroke-width="0.7"/>
<polygon points="262.7,269.44 277.72,267.56 280.62,277.22 265.63,279.1" fill="#dde995" stroke="#dde995" stroke-width="0.7"/>
<polygon points="-1.93,316.52 12.81,314.26 16.27,323.85 1.56,326.1" fill="#84bf52" stroke="#84bf52" stroke-width="0.7"/>
<polygon points="12.81,314.26 27.57,312.02 30.99,321.61 16.27,323.85" fill="#84bf52" stroke="#84bf52" stroke-width="0.7"/>
<polygon points="27.57,312.02 42.34,309.81 45.73,319.4 30.99,321.61" fill="#a4a4a4" stroke="#a4a4a4" stroke-width="0.7"/>
<polygon points="42.34,309.81 57.13,307.61 60.49,317.21 45.73,319.4" fill="#e2f897" stroke="#e2f897" stroke-width="0.7"/>
<polygon points="57.13,307.61 71.93,305.44 75.26,315.04 60.49,317.21" fill="#dfeb96" stroke="#dfeb96" stroke-width="0.7"/>
<polygon points="71.93,305.44 86.74,303.28 90.04,312.89 75.26,315.04" fill="#e6f59b" stroke="#e6f59b" stroke-width="0.7"/>
<polygon points="86.74,303.28 101.57,301.15 104.84,310.76 90.04,312.89" fill="#d7e091" stroke="#d7e091" stroke-width="0.7"/>
<polygon points="101.57,301.15 116.42,299.04 119.65,308.66 104.84,310.76" fill="#dbe693" stroke="#dbe693" stroke-width="0.7"/>
<polygon points="116.42,299.04 131.28,296.95 134.48,306.57 119.65,308.66" fill="#d7e091" stroke="#d7e091" stroke-width="0.7"/>
<polygon points="131.28,296.95 146.15,294.88 149.32,304.51 134.48,306.57" fill="#e8fc9c" stroke="#e8fc9c" stroke-width="0.7"/>
<polygon points="146.15,294.88 161.04,292.83 164.18,302.46 149.32,304.51" fill="#c7e783" stroke="#c7e783" stroke-width="0.7"/>
<polygon points="161.04,292.83 175.94,290.81 179.05,300.44 164.18,302.46" fill="#b7de78" stroke="#b7de78" stroke-width="0.7"/>
<polygon points="175.94,290.81 190.85,288.8 193.93,298.44 179.05,300.44" fill="#b6dd77" stroke="#b6dd77" stroke-width="0.7"/>
<polygon points="190.85,288.8 205.78,286.82 208.83,296.46 193.93,298.44" fill="#a4d36a" stroke="#a4d36a" stroke-width="0.7"/>
<polygon points="205.78,286.82 220.72,284.85 223.74,294.5 208.83,296.46" fill="#a5d36b" stroke="#a5d36b" stroke-width="0.7"/>
<polygon points="220.72,284.85 235.68,282.91 238.66,292.57 223.74,294.5" fill="#b3dc75" stroke="#b3dc75" stroke-width="0.7"/>
<polygon points="235.68,282.91 250.65,281 253.6,290.65 238.66,292.57" fill="#b9df79" stroke="#b9df79" stroke-width="0.7"/>
<polygon points="250.65,281 265.63,279.1 268.55,288.76 253.6,290.65" fill="#c3e580" stroke="#c3e580" stroke-width="0.7"/>
<polygon points="265.63,279.1 280.62,277.22 283.51,286.89 268.55,288.76" fill="#edfea0" stroke="#edfea0" stroke-width="0.7"/>
<polygon points="1.56,326.1 16.27,323.85 19.7,333.43 5.02,335.68" fill="#8dc559" stroke="#8dc559" stroke-width="0.7"/>
<polygon points="16.27,323.85 30.99,321.61 34.4,331.21 19.7,333.43" fill="#8dc559" stroke="#8dc559" stroke-width="0.7"/>
<polygon points="30.99,321.61 45.73,319.4 49.11,329 34.4,331.21" fill="#8dc559" stroke="#8dc559" stroke-width="0.7"/>
<polygon points="45.73,319.4 60.49,317.21 63.83,326.81 49.11,329" fill="#c4e681" stroke="#c4e681" stroke-width="0.7"/>
<polygon points="60.49,317.21 75.26,315.04 78.57,324.65 63.83,326.81" fill="#e4f999" stroke="#e4f999" stroke-width="0.7"/>
<polygon points="75.26,315.04 90.04,312.89 93.33,322.5 78.57,324.65" fill="#e1ee97" stroke="#e1ee97" stroke-width="0.7"/>
<polygon points="90.04,312.89 104.84,310.76 108.09,320.38 93.33,322.5" fill="#e3f199" stroke="#e3f199" stroke-width="0.7"/>
<polygon points="104.84,310.76 119.65,308.66 122.88,318.28 108.09,320.38" fill="#ebfd9e" stroke="#ebfd9e" stroke-width="0.7"/>
<polygon points="119.65,308.66 134.48,306.57 137.67,316.2 122.88,318.28" fill="#edfea0" stroke="#edfea0" stroke-width="0.7"/>
<polygon points="134.48,306.57 149.32,304.51 152.48,314.14 137.67,316.2" fill="#edffa0" stroke="#edffa0" stroke-width="0.7"/>
<polygon points="149.32,304.51 164.18,302.46 167.31,312.1 152.48,314.14" fill="#c8e884" stroke="#c8e884" stroke-width="0.7"/>
<polygon points="164.18,302.46 179.05,300.44 182.15,310.08 167.31,312.1" fill="#b9df79" stroke="#b9df79" stroke-width="0.7"/>
<polygon points="179.05,300.44 193.93,298.44 197,308.08 182.15,310.08" fill="#b7de78" stroke="#b7de78" stroke-width="0.7"/>
<polygon points="193.93,298.44 208.83,296.46 211.86,306.11 197,308.08" fill="#a3d269" stroke="#a3d269" stroke-width="0.7"/>
<polygon points="208.83,296.46 223.74,294.5 226.74,304.16 211.86,306.11" fill="#a9d66d" stroke="#a9d66d" stroke-width="0.7"/>
<polygon points="223.74,294.5 238.66,292.57 241.63,302.22 226.74,304.16" fill="#95c95e" stroke="#95c95e" stroke-width="0.7"/>
<polygon points="238.66,292.57 253.6,290.65 256.54,300.31 241.63,302.22" fill="#a0d067" stroke="#a0d067" stroke-width="0.7"/>
<polygon points="253.6,290.65 268.55,288.76 271.46,298.42 256.54,300.31" fill="#aed971" stroke="#aed971" stroke-width="0.7"/>
<polygon points="268.55,288.76 283.51,286.89 286.39,296.56 271.46,298.42" fill="#bbe07b" stroke="#bbe07b" stroke-width="0.7"/>
<polygon points="5.02,335.68 19.7,333.43 23.13,343.02 8.48,345.27" fill="#edffa0" stroke="#edffa0" stroke-width="0.7"/>
<polygon points="19.7,333.43 34.4,331.21 37.79,340.8 23.13,343.02" fill="#ebfd9e" stroke="#ebfd9e" stroke-width="0.7"/>
<polygon points="34.4,331.21 49.11,329 52.47,338.6 37.79,340.8" fill="#8dc559" stroke="#8dc559" stroke-width="0.7"/>
<polygon points="49.11,329 63.83,326.81 67.16,336.41 52.47,338.6" fill="#bee27d" stroke="#bee27d" stroke-width="0.7"/>
<polygon points="63.83,326.81 78.57,324.65 81.87,334.25 67.16,336.41" fill="#cdeb88" stroke="#cdeb88" stroke-width="0.7"/>
<polygon points="78.57,324.65 93.33,322.5 96.6,332.11 81.87,334.25" fill="#aad66e" stroke="#aad66e" stroke-width="0.7"/>
<polygon points="93.33,322.5 108.09,320.38 111.33,330 96.6,332.11" fill="#edffa0" stroke="#edffa0" stroke-width="0.7"/>
<polygon points="108.09,320.38 122.88,318.28 126.09,327.9 111.33,330" fill="#dfeb96" stroke="#dfeb96" stroke-width="0.7"/>
<polygon points="122.88,318.28 137.67,316.2 140.85,325.82 126.09,327.9" fill="#a8d56d" stroke="#a8d56d" stroke-width="0.7"/>
<polygon points="137.67,316.2 152.48,314.14 155.63,323.77 140.85,325.82" fill="#bbe07b" stroke="#bbe07b" stroke-width="0.7"/>
<polygon points="152.48,314.14 167.31,312.1 170.42,321.73 155.63,323.77" fill="#c8e884" stroke="#c8e884" stroke-width="0.7"/>
<polygon points="167.31,312.1 182.15,310.08 185.23,319.72 170.42,321.73" fill="#a4d36a" stroke="#a4d36a" stroke-width="0.7"/>
<polygon points="182.15,310.08 197,308.08 200.05,317.73 185.23,319.72" fill="#97cb60" stroke="#97cb60" stroke-width="0.7"/>
<polygon points="197,308.08 211.86,306.11 214.88,315.76 200.05,317.73" fill="#b2db74" stroke="#b2db74" stroke-width="0.7"/>
<polygon points="211.86,306.11 226.74,304.16 229.73,313.81 214.88,315.76" fill="#b7de78" stroke="#b7de78" stroke-width="0.7"/>
<polygon points="226.74,304.16 241.63,302.22 244.59,311.88 229.73,313.81" fill="#c8e884" stroke="#c8e884" stroke-width="0.7"/>
<polygon points="241.63,302.22 256.54,300.31 259.47,309.97 244.59,311.88" fill="#c8e884" stroke="#c8e884" stroke-width="0.7"/>
<polygon points="256.54,300.31 271.46,298.42 274.35,308.09 259.47,309.97" fill="#a4d36a" stroke="#a4d36a" stroke-width="0.7"/>
<polygon points="271.46,298.42 286.39,296.56 289.25,306.23 274.35,308.09" fill="#acd76f" stroke="#acd76f" stroke-width="0.7"/>
<polygon points="8.48,345.27 23.13,343.02 26.53,352.61 11.91,354.85" fill="#edfea0" stroke="#edfea0" stroke-width="0.7"/>
<polygon points="23.13,343.02 37.79,340.8 41.17,350.39 26.53,352.61" fill="#e8fc9c" stroke="#e8fc9c" stroke-width="0.7"/>
<polygon points="37.79,340.8 52.47,338.6 55.82,348.19 41.17,350.39" fill="#bbe07b" stroke="#bbe07b" stroke-width="0.7"/>
<polygon points="52.47,338.6 67.16,336.41 70.48,346.02 55.82,348.19" fill="#a4d36a" stroke="#a4d36a" stroke-width="0.7"/>
<polygon points="67.16,336.41 81.87,334.25 85.16,343.86 70.48,346.02" fill="#c2e47f" stroke="#c2e47f" stroke-width="0.7"/>
<polygon points="81.87,334.25 96.6,332.11 99.85,341.73 85.16,343.86" fill="#b7de78" stroke="#b7de78" stroke-width="0.7"/>
<polygon points="96.6,332.11 111.33,330 114.56,339.61 99.85,341.73" fill="#e2f897" stroke="#e2f897" stroke-width="0.7"/>
<polygon points="111.33,330 126.09,327.9 129.28,337.52 114.56,339.61" fill="#ebfd9e" stroke="#ebfd9e" stroke-width="0.7"/>
<polygon points="126.09,327.9 140.85,325.82 144.01,335.45 129.28,337.52" fill="#edffa0" stroke="#edffa0" stroke-width="0.7"/>
<polygon points="140.85,325.82 155.63,323.77 158.76,333.4 144.01,335.45" fill="#a4d36a" stroke="#a4d36a" stroke-width="0.7"/>
<polygon points="155.63,323.77 170.42,321.73 173.53,331.37 158.76,333.4" fill="#a0d067" stroke="#a0d067" stroke-width="0.7"/>
<polygon points="170.42,321.73 185.23,319.72 188.3,329.36 173.53,331.37" fill="#92c85c" stroke="#92c85c" stroke-width="0.7"/>
<polygon points="185.23,319.72 200.05,317.73 203.09,327.37 188.3,329.36" fill="#9ecf65" stroke="#9ecf65" stroke-width="0.7"/>
<polygon points="200.05,317.73 214.88,315.76 217.89,325.41 203.09,327.37" fill="#bee27d" stroke="#bee27d" stroke-width="0.7"/>
<polygon points="214.88,315.76 229.73,313.81 232.71,323.46 217.89,325.41" fill="#bbe07b" stroke="#bbe07b" stroke-width="0.7"/>
<polygon points="229.73,313.81 244.59,311.88 247.54,321.54 232.71,323.46" fill="#cbea86" stroke="#cbea86" stroke-width="0.7"/>
<polygon points="244.59,311.88 259.47,309.97 262.38,319.63 247.54,321.54" fill="#d1ee8b" stroke="#d1ee8b" stroke-width="0.7"/>
<polygon points="259.47,309.97 274.35,308.09 277.23,317.75 262.38,319.63" fill="#edffa0" stroke="#edffa0" stroke-width="0.7"/>
<polygon points="274.35,308.09 289.25,306.23 292.1,315.89 277.23,317.75" fill="#b7de78" stroke="#b7de78" stroke-width="0.7"/>
<polygon points="-2.69,357.11 11.91,354.85 15.34,364.43 0.76,366.69" fill="#e5f39a" stroke="#e5f39a" stroke-width="0.7"/>
<polygon points="11.91,354.85 26.53,352.61 29.93,362.2 15.34,364.43" fill="#e5f39a" stroke="#e5f39a" stroke-width="0.7"/>
<polygon points="26.53,352.61 41.17,350.39 44.53,359.99 29.93,362.2" fill="#e7fb9b" stroke="#e7fb9b" stroke-width="0.7"/>
<polygon points="41.17,350.39 55.82,348.19 59.15,357.79 44.53,359.99" fill="#c7e783" stroke="#c7e783" stroke-width="0.7"/>
<polygon points="55.82,348.19 70.48,346.02 73.78,355.62 59.15,357.79" fill="#c0e47e" stroke="#c0e47e" stroke-width="0.7"/>
<polygon points="70.48,346.02 85.16,343.86 88.43,353.47 73.78,355.62" fill="#8dc559" stroke="#8dc559" stroke-width="0.7"/>
<polygon points="85.16,343.86 99.85,341.73 103.09,351.34 88.43,353.47" fill="#def594" stroke="#def594" stroke-width="0.7"/>
<polygon points="99.85,341.73 114.56,339.61 117.77,349.23 103.09,351.34" fill="#bee27d" stroke="#bee27d" stroke-width="0.7"/>
<polygon points="114.56,339.61 129.28,337.52 132.46,347.14 117.77,349.23" fill="#cbea86" stroke="#cbea86" stroke-width="0.7"/>
<polygon points="129.28,337.52 144.01,335.45 147.16,345.07 132.46,347.14" fill="#acd76f" stroke="#acd76f" stroke-width="0.7"/>
<polygon points="144.01,335.45 158.76,333.4 161.88,343.03 147.16,345.07" fill="#97cb60" stroke="#97cb60" stroke-width="0.7"/>
<polygon points="158.76,333.4 173.53,331.37 176.61,341 161.88,343.03" fill="#aad66e" stroke="#aad66e" stroke-width="0.7"/>
<polygon points="173.53,331.37 188.3,329.36 191.36,339 176.61,341" fill="#c3e580" stroke="#c3e580" stroke-width="0.7"/>
<polygon points="188.3,329.36 203.09,327.37 206.12,337.02 191.36,339" fill="#d5f08e" stroke="#d5f08e" stroke-width="0.7"/>
<polygon points="203.09,327.37 217.89,325.41 220.89,335.05 206.12,337.02" fill="#ecfe9f" stroke="#ecfe9f" stroke-width="0.7"/>
<polygon points="217.89,325.41 232.71,323.46 235.67,333.11 220.89,335.05" fill="#ecfe9f" stroke="#ecfe9f" stroke-width="0.7"/>
<polygon points="232.71,323.46 247.54,321.54 250.47,331.19 235.67,333.11" fill="#d6f18f" stroke="#d6f18f" stroke-width="0.7"/>
<polygon points="247.54,321.54 262.38,319.63 265.28,329.3 250.47,331.19" fill="#c8e884" stroke="#c8e884" stroke-width="0.7"/>
<polygon points="262.38,319.63 277.23,317.75 280.1,327.42 265.28,329.3" fill="#cdeb88" stroke="#cdeb88" stroke-width="0.7"/>
<polygon points="277.23,317.75 292.1,315.89 294.94,325.57 280.1,327.42" fill="#c3e580" stroke="#c3e580" stroke-width="0.7"/>
<polygon points="0.76,366.69 15.34,364.43 18.74,374.02 4.2,376.27" fill="#cdd38a" stroke="#cdd38a" stroke-width="0.7"/>
<polygon points="15.34,364.43 29.93,362.2 33.3,371.79 18.74,374.02" fill="#d7e091" stroke="#d7e091" stroke-width="0.7"/>
<polygon points="29.93,362.2 44.53,359.99 47.88,369.58 33.3,371.79" fill="#e5f39a" stroke="#e5f39a" stroke-width="0.7"/>
<polygon points="44.53,359.99 59.15,357.79 62.47,367.39 47.88,369.58" fill="#edfea0" stroke="#edfea0" stroke-width="0.7"/>
<polygon points="59.15,357.79 73.78,355.62 77.07,365.23 62.47,367.39" fill="#cdeb88" stroke="#cdeb88" stroke-width="0.7"/>
<polygon points="73.78,355.62 88.43,353.47 91.69,363.08 77.07,365.23" fill="#c7e783" stroke="#c7e783" stroke-width="0.7"/>
<polygon points="88.43,353.47 103.09,351.34 106.32,360.95 91.69,363.08" fill="#a9d66d" stroke="#a9d66d" stroke-width="0.7"/>
<polygon points="103.09,351.34 117.77,349.23 120.97,358.85 106.32,360.95" fill="#acd76f" stroke="#acd76f" stroke-width="0.7"/>
<polygon points="117.77,349.23 132.46,347.14 135.63,356.77 120.97,358.85" fill="#dddddd" stroke="#dddddd" stroke-width="0.7"/>
<polygon points="132.46,347.14 147.16,345.07 150.3,354.7 135.63,356.77" fill="#d1ee8b" stroke="#d1ee8b" stroke-width="0.7"/>
<polygon points="147.16,345.07 161.88,343.03 164.99,352.66 150.3,354.7" fill="#d5f08e" stroke="#d5f08e" stroke-width="0.7"/>
<polygon points="161.88,343.03 176.61,341 179.69,350.64 164.99,352.66" fill="#bbe07b" stroke="#bbe07b" stroke-width="0.7"/>
<polygon points="176.61,341 191.36,339 194.4,348.64 179.69,350.64" fill="#c8e884" stroke="#c8e884" stroke-width="0.7"/>
<polygon points="191.36,339 206.12,337.02 209.13,346.66 194.4,348.64" fill="#daf391" stroke="#daf391" stroke-width="0.7"/>
<polygon points="206.12,337.02 220.89,335.05 223.87,344.7 209.13,346.66" fill="#d5f08e" stroke="#d5f08e" stroke-width="0.7"/>
<polygon points="220.89,335.05 235.67,333.11 238.62,342.77 223.87,344.7" fill="#edffa0" stroke="#edffa0" stroke-width="0.7"/>
<polygon points="235.67,333.11 250.47,331.19 253.39,340.85 238.62,342.77" fill="#edffa0" stroke="#edffa0" stroke-width="0.7"/>
<polygon points="250.47,331.19 265.28,329.3 268.17,338.96 253.39,340.85" fill="#d7e091" stroke="#d7e091" stroke-width="0.7"/>
<polygon points="265.28,329.3 280.1,327.42 282.96,337.09 268.17,338.96" fill="#edffa0" stroke="#edffa0" stroke-width="0.7"/>
<polygon points="280.1,327.42 294.94,325.57 297.76,335.24 282.96,337.09" fill="#c8e884" stroke="#c8e884" stroke-width="0.7"/>
<polygon points="4.2,376.27 18.74,374.02 22.14,383.61 7.62,385.85" fill="#bfc181" stroke="#bfc181" stroke-width="0.7"/>
<polygon points="18.74,374.02 33.3,371.79 36.67,381.38 22.14,383.61" fill="#d4dc8f" stroke="#d4dc8f" stroke-width="0.7"/>
<polygon points="33.3,371.79 47.88,369.58 51.21,379.18 36.67,381.38" fill="#e5f39a" stroke="#e5f39a" stroke-width="0.7"/>
<polygon points="47.88,369.58 62.47,367.39 65.77,377 51.21,379.18" fill="#d7f18f" stroke="#d7f18f" stroke-width="0.7"/>
<polygon points="62.47,367.39 77.07,365.23 80.35,374.83 65.77,377" fill="#d4ef8d" stroke="#d4ef8d" stroke-width="0.7"/>
<polygon points="77.07,365.23 91.69,363.08 94.93,372.69 80.35,374.83" fill="#ddf593" stroke="#ddf593" stroke-width="0.7"/>
<polygon points="91.69,363.08 106.32,360.95 109.54,370.57 94.93,372.69" fill="#d4ef8d" stroke="#d4ef8d" stroke-width="0.7"/>
<polygon points="106.32,360.95 120.97,358.85 124.15,368.47 109.54,370.57" fill="#c8e884" stroke="#c8e884" stroke-width="0.7"/>
<polygon points="120.97,358.85 135.63,356.77 138.78,366.39 124.15,368.47" fill="#828282" stroke="#828282" stroke-width="0.7"/>
<polygon points="135.63,356.77 150.3,354.7 153.42,364.33 138.78,366.39" fill="#2f2f2f" stroke="#2f2f2f" stroke-width="0.7"/>
<polygon points="150.3,354.7 164.99,352.66 168.08,362.29 153.42,364.33" fill="#a4a4a4" stroke="#a4a4a4" stroke-width="0.7"/>
<polygon points="164.99,352.66 179.69,350.64 182.75,360.28 168.08,362.29" fill="#bbe07b" stroke="#bbe07b" stroke-width="0.7"/>
<polygon points="179.69,350.64 194.4,348.64 197.43,358.28 182.75,360.28" fill="#cbea86" stroke="#cbea86" stroke-width="0.7"/>
<polygon points="194.4,348.64 209.13,346.66 212.13,356.31 197.43,358.28" fill="#b7de78" stroke="#b7de78" stroke-width="0.7"/>
<polygon points="209.13,346.66 223.87,344.7 226.84,354.36 212.13,356.31" fill="#edffa0" stroke="#edffa0" stroke-width="0.7"/>
<polygon points="223.87,344.7 238.62,342.77 241.56,352.42 226.84,354.36" fill="#d7e091" stroke="#d7e091" stroke-width="0.7"/>
<polygon points="238.62,342.77 253.39,340.85 256.29,350.51 241.56,352.42" fill="#cfd68b" stroke="#cfd68b" stroke-width="0.7"/>
<polygon points="253.39,340.85 268.17,338.96 271.04,348.62 256.29,350.51" fill="#d4dc8f" stroke="#d4dc8f" stroke-width="0.7"/>
<polygon points="268.17,338.96 282.96,337.09 285.8,346.75 271.04,348.62" fill="#c0c282" stroke="#c0c282" stroke-width="0.7"/>
<polygon points="282.96,337.09 297.76,335.24 300.57,344.91 285.8,346.75" fill="#bdbe7f" stroke="#bdbe7f" stroke-width="0.7"/>
<polygon points="22.14,383.61 36.67,381.38 40.02,390.98 25.52,393.2" fill="#c4c884" stroke="#c4c884" stroke-width="0.7"/>
<polygon points="36.67,381.38 51.21,379.18 54.53,388.78 40.02,390.98" fill="#dce794" stroke="#dce794" stroke-width="0.7"/>
<polygon points="51.21,379.18 65.77,377 69.06,386.6 54.53,388.78" fill="#ddf593" stroke="#ddf593" stroke-width="0.7"/>
<polygon points="65.77,377 80.35,374.83 83.61,384.44 69.06,386.6" fill="#e9fc9d" stroke="#e9fc9d" stroke-width="0.7"/>
<polygon points="80.35,374.83 94.93,372.69 98.16,382.3 83.61,384.44" fill="#e0f796" stroke="#e0f796" stroke-width="0.7"/>
<polygon points="94.93,372.69 109.54,370.57 112.74,380.19 98.16,382.3" fill="#ecfe9f" stroke="#ecfe9f" stroke-width="0.7"/>
<polygon points="109.54,370.57 124.15,368.47 127.32,378.09 112.74,380.19" fill="#e0f796" stroke="#e0f796" stroke-width="0.7"/>
<polygon points="124.15,368.47 138.78,366.39 141.92,376.02 127.32,378.09" fill="#7a7a7a" stroke="#7a7a7a" stroke-width="0.7"/>
<polygon points="138.78,366.39 153.42,364.33 156.53,373.96 141.92,376.02" fill="#080808" stroke="#080808" stroke-width="0.7"/>
<polygon points="153.42,364.33 168.08,362.29 171.16,371.93 156.53,373.96" fill="#343434" stroke="#343434" stroke-width="0.7"/>
<polygon points="168.08,362.29 182.75,360.28 185.8,369.92 171.16,371.93" fill="#aed971" stroke="#aed971" stroke-width="0.7"/>
<polygon points="182.75,360.28 197.43,358.28 200.45,367.93 185.8,369.92" fill="#b6dd77" stroke="#b6dd77" stroke-width="0.7"/>
<polygon points="197.43,358.28 212.13,356.31 215.12,365.96 200.45,367.93" fill="#daf391" stroke="#daf391" stroke-width="0.7"/>
<polygon points="212.13,356.31 226.84,354.36 229.79,364.01 215.12,365.96" fill="#edfea0" stroke="#edfea0" stroke-width="0.7"/>
<polygon points="226.84,354.36 241.56,352.42 244.48,362.08 229.79,364.01" fill="#d7e091" stroke="#d7e091" stroke-width="0.7"/>
<polygon points="241.56,352.42 256.29,350.51 259.19,360.17 244.48,362.08" fill="#c4c884" stroke="#c4c884" stroke-width="0.7"/>
<polygon points="256.29,350.51 271.04,348.62 273.91,358.29 259.19,360.17" fill="#b3b179" stroke="#b3b179" stroke-width="0.7"/>
<polygon points="271.04,348.62 285.8,346.75 288.63,356.42 273.91,358.29" fill="#bcbd7f" stroke="#bcbd7f" stroke-width="0.7"/>
<polygon points="285.8,346.75 300.57,344.91 303.37,354.58 288.63,356.42" fill="#ebfc9e" stroke="#ebfc9e" stroke-width="0.7"/>
<polygon points="40.02,390.98 54.53,388.78 57.84,398.38 43.35,400.57" fill="#a9a372" stroke="#a9a372" stroke-width="0.7"/>
<polygon points="54.53,388.78 69.06,386.6 72.34,396.2 57.84,398.38" fill="#d2da8d" stroke="#d2da8d" stroke-width="0.7"/>
<polygon points="69.06,386.6 83.61,384.44 86.85,394.05 72.34,396.2" fill="#ebfc9e" stroke="#ebfc9e" stroke-width="0.7"/>
<polygon points="83.61,384.44 98.16,382.3 101.38,391.92 86.85,394.05" fill="#e3f199" stroke="#e3f199" stroke-width="0.7"/>
<polygon points="98.16,382.3 112.74,380.19 115.92,389.8 101.38,391.92" fill="#dde995" stroke="#dde995" stroke-width="0.7"/>
<polygon points="112.74,380.19 127.32,378.09 130.48,387.71 115.92,389.8" fill="#ebfd9e" stroke="#ebfd9e" stroke-width="0.7"/>
<polygon points="127.32,378.09 141.92,376.02 145.05,385.64 130.48,387.71" fill="#d2d2d2" stroke="#d2d2d2" stroke-width="0.7"/>
<polygon points="141.92,376.02 156.53,373.96 159.63,383.59 145.05,385.64" fill="#7a7a7a" stroke="#7a7a7a" stroke-width="0.7"/>
<polygon points="156.53,373.96 171.16,371.93 174.22,381.56 159.63,383.59" fill="#b6b6b6" stroke="#b6b6b6" stroke-width="0.7"/>
<polygon points="171.16,371.93 185.8,369.92 188.83,379.56 174.22,381.56" fill="#d0ed8a" stroke="#d0ed8a" stroke-width="0.7"/>
<polygon points="185.8,369.92 200.45,367.93 203.45,377.57 188.83,379.56" fill="#cdeb88" stroke="#cdeb88" stroke-width="0.7"/>
<polygon points="200.45,367.93 215.12,365.96 218.09,375.6 203.45,377.57" fill="#e2f897" stroke="#e2f897" stroke-width="0.7"/>
<polygon points="215.12,365.96 229.79,364.01 232.74,373.66 218.09,375.6" fill="#e5f39a" stroke="#e5f39a" stroke-width="0.7"/>
<polygon points="229.79,364.01 244.48,362.08 247.4,371.74 232.74,373.66" fill="#cdd38a" stroke="#cdd38a" stroke-width="0.7"/>
<polygon points="244.48,362.08 259.19,360.17 262.07,369.83 247.4,371.74" fill="#bcbd7f" stroke="#bcbd7f" stroke-width="0.7"/>
<polygon points="259.19,360.17 273.91,358.29 276.76,367.95 262.07,369.83" fill="#a69f70" stroke="#a69f70" stroke-width="0.7"/>
<polygon points="43.35,400.57 57.84,398.38 61.13,407.98 46.68,410.17" fill="#bfc181" stroke="#bfc181" stroke-width="0.7"/>
<polygon points="57.84,398.38 72.34,396.2 75.6,405.81 61.13,407.98" fill="#dfeb96" stroke="#dfeb96" stroke-width="0.7"/>
<polygon points="72.34,396.2 86.85,394.05 90.09,403.66 75.6,405.81" fill="#edfea0" stroke="#edfea0" stroke-width="0.7"/>
<polygon points="86.85,394.05 101.38,391.92 104.58,401.53 90.09,403.66" fill="#eafa9e" stroke="#eafa9e" stroke-width="0.7"/>
<polygon points="101.38,391.92 115.92,389.8 119.1,399.42 104.58,401.53" fill="#eafa9e" stroke="#eafa9e" stroke-width="0.7"/>
<polygon points="115.92,389.8 130.48,387.71 133.62,397.34 119.1,399.42" fill="#edffa0" stroke="#edffa0" stroke-width="0.7"/>
<polygon points="130.48,387.71 145.05,385.64 148.16,395.27 133.62,397.34" fill="#c3e580" stroke="#c3e580" stroke-width="0.7"/>
<polygon points="145.05,385.64 159.63,383.59 162.71,393.23 148.16,395.27" fill="#dfdfdf" stroke="#dfdfdf" stroke-width="0.7"/>
<polygon points="159.63,383.59 174.22,381.56 177.28,391.2 162.71,393.23" fill="#b3dc75" stroke="#b3dc75" stroke-width="0.7"/>
<polygon points="174.22,381.56 188.83,379.56 191.86,389.2 177.28,391.2" fill="#b7de78" stroke="#b7de78" stroke-width="0.7"/>
<polygon points="188.83,379.56 203.45,377.57 206.45,387.22 191.86,389.2" fill="#c5e782" stroke="#c5e782" stroke-width="0.7"/>
<polygon points="203.45,377.57 218.09,375.6 221.05,385.25 206.45,387.22" fill="#e2f897" stroke="#e2f897" stroke-width="0.7"/>
<polygon points="218.09,375.6 232.74,373.66 235.67,383.31 221.05,385.25" fill="#e1ee97" stroke="#e1ee97" stroke-width="0.7"/>
<polygon points="232.74,373.66 247.4,371.74 250.3,381.39 235.67,383.31" fill="#cfd68b" stroke="#cfd68b" stroke-width="0.7"/>
<polygon points="247.4,371.74 262.07,369.83 264.94,379.5 250.3,381.39" fill="#bcbd7f" stroke="#bcbd7f" stroke-width="0.7"/>
<polygon points="262.07,369.83 276.76,367.95 279.59,377.62 264.94,379.5" fill="#bcbd7f" stroke="#bcbd7f" stroke-width="0.7"/>
<polygon points="276.76,367.95 291.45,366.09 294.26,375.76 279.59,377.62" fill="#dfeb96" stroke="#dfeb96" stroke-width="0.7"/>
<polygon points="32.23,412.38 46.68,410.17 49.98,419.76 35.57,421.97" fill="#b8b87c" stroke="#b8b87c" stroke-width="0.7"/>
<polygon points="46.68,410.17 61.13,407.98 64.41,417.58 49.98,419.76" fill="#d5de8f" stroke="#d5de8f" stroke-width="0.7"/>
<polygon points="61.13,407.98 75.6,405.81 78.85,415.41 64.41,417.58" fill="#e6f59b" stroke="#e6f59b" stroke-width="0.7"/>
<polygon points="75.6,405.81 90.09,403.66 93.31,413.27 78.85,415.41" fill="#eafa9e" stroke="#eafa9e" stroke-width="0.7"/>
<polygon points="90.09,403.66 104.58,401.53 107.77,411.14 93.31,413.27" fill="#ecfd9f" stroke="#ecfd9f" stroke-width="0.7"/>
<polygon points="104.58,401.53 119.1,399.42 122.26,409.04 107.77,411.14" fill="#edffa0" stroke="#edffa0" stroke-width="0.7"/>
<polygon points="119.1,399.42 133.62,397.34 136.75,406.96 122.26,409.04" fill="#ecfe9f" stroke="#ecfe9f" stroke-width="0.7"/>
<polygon points="133.62,397.34 148.16,395.27 151.26,404.9 136.75,406.96" fill="#e0f796" stroke="#e0f796" stroke-width="0.7"/>
<polygon points="148.16,395.27 162.71,393.23 165.78,402.86 151.26,404.9" fill="#bbe07b" stroke="#bbe07b" stroke-width="0.7"/>
<polygon points="162.71,393.23 177.28,391.2 180.32,400.84 165.78,402.86" fill="#b6dd77" stroke="#b6dd77" stroke-width="0.7"/>
<polygon points="177.28,391.2 191.86,389.2 194.86,398.84 180.32,400.84" fill="#b3dc75" stroke="#b3dc75" stroke-width="0.7"/>
<polygon points="191.86,389.2 206.45,387.22 209.43,396.86 194.86,398.84" fill="#c8e884" stroke="#c8e884" stroke-width="0.7"/>
<polygon points="206.45,387.22 221.05,385.25 224,394.9 209.43,396.86" fill="#edffa0" stroke="#edffa0" stroke-width="0.7"/>
<polygon points="221.05,385.25 235.67,383.31 238.59,392.97 224,394.9" fill="#e1ee97" stroke="#e1ee97" stroke-width="0.7"/>
<polygon points="235.67,383.31 250.3,381.39 253.18,391.05 238.59,392.97" fill="#d3db8e" stroke="#d3db8e" stroke-width="0.7"/>
<polygon points="250.3,381.39 264.94,379.5 267.8,389.16 253.18,391.05" fill="#c0c282" stroke="#c0c282" stroke-width="0.7"/>
<polygon points="264.94,379.5 279.59,377.62 282.42,387.29 267.8,389.16" fill="#c8e884" stroke="#c8e884" stroke-width="0.7"/>
<polygon points="279.59,377.62 294.26,375.76 297.06,385.43 282.42,387.29" fill="#d5f08e" stroke="#d5f08e" stroke-width="0.7"/>
<polygon points="21.17,424.19 35.57,421.97 38.89,431.56 24.52,433.78" fill="#b9b97d" stroke="#b9b97d" stroke-width="0.7"/>
<polygon points="35.57,421.97 49.98,419.76 53.28,429.36 38.89,431.56" fill="#d6df90" stroke="#d6df90" stroke-width="0.7"/>
<polygon points="49.98,419.76 64.41,417.58 67.67,427.18 53.28,429.36" fill="#edfea0" stroke="#edfea0" stroke-width="0.7"/>
<polygon points="64.41,417.58 78.85,415.41 82.09,425.02 67.67,427.18" fill="#e6f59b" stroke="#e6f59b" stroke-width="0.7"/>
<polygon points="78.85,415.41 93.31,413.27 96.51,422.88 82.09,425.02" fill="#eafa9e" stroke="#eafa9e" stroke-width="0.7"/>
<polygon points="93.31,413.27 107.77,411.14 110.95,420.76 96.51,422.88" fill="#edfea0" stroke="#edfea0" stroke-width="0.7"/>
<polygon points="107.77,411.14 122.26,409.04 125.4,418.66 110.95,420.76" fill="#ecfe9f" stroke="#ecfe9f" stroke-width="0.7"/>
<polygon points="122.26,409.04 136.75,406.96 139.87,416.58 125.4,418.66" fill="#ecfe9f" stroke="#ecfe9f" stroke-width="0.7"/>
<polygon points="136.75,406.96 151.26,404.9 154.35,414.53 139.87,416.58" fill="#e0f796" stroke="#e0f796" stroke-width="0.7"/>
<polygon points="151.26,404.9 165.78,402.86 168.84,412.49 154.35,414.53" fill="#c8e884" stroke="#c8e884" stroke-width="0.7"/>
<polygon points="165.78,402.86 180.32,400.84 183.34,410.48 168.84,412.49" fill="#b7de78" stroke="#b7de78" stroke-width="0.7"/>
<polygon points="180.32,400.84 194.86,398.84 197.86,408.48 183.34,410.48" fill="#b3dc75" stroke="#b3dc75" stroke-width="0.7"/>
<polygon points="194.86,398.84 209.43,396.86 212.39,406.51 197.86,408.48" fill="#cbea86" stroke="#cbea86" stroke-width="0.7"/>
<polygon points="209.43,396.86 224,394.9 226.94,404.56 212.39,406.51" fill="#e4f999" stroke="#e4f999" stroke-width="0.7"/>
<polygon points="224,394.9 238.59,392.97 241.49,402.62 226.94,404.56" fill="#ddf593" stroke="#ddf593" stroke-width="0.7"/>
<polygon points="238.59,392.97 253.18,391.05 256.06,400.71 241.49,402.62" fill="#d5f08e" stroke="#d5f08e" stroke-width="0.7"/>
<polygon points="253.18,391.05 267.8,389.16 270.64,398.82 256.06,400.71" fill="#b3dc75" stroke="#b3dc75" stroke-width="0.7"/>
<polygon points="267.8,389.16 282.42,387.29 285.23,396.95 270.64,398.82" fill="#a8d56d" stroke="#a8d56d" stroke-width="0.7"/>
<polygon points="282.42,387.29 297.06,385.43 299.84,395.11 285.23,396.95" fill="#b3dc75" stroke="#b3dc75" stroke-width="0.7"/>
<polygon points="24.52,433.78 38.89,431.56 42.2,441.16 27.86,443.37" fill="#d5de8f" stroke="#d5de8f" stroke-width="0.7"/>
<polygon points="38.89,431.56 53.28,429.36 56.56,438.96 42.2,441.16" fill="#e1ee97" stroke="#e1ee97" stroke-width="0.7"/>
<polygon points="53.28,429.36 67.67,427.18 70.92,436.78 56.56,438.96" fill="#edffa0" stroke="#edffa0" stroke-width="0.7"/>
<polygon points="67.67,427.18 82.09,425.02 85.31,434.63 70.92,436.78" fill="#edffa0" stroke="#edffa0" stroke-width="0.7"/>
<polygon points="82.09,425.02 96.51,422.88 99.7,432.49 85.31,434.63" fill="#ecfe9f" stroke="#ecfe9f" stroke-width="0.7"/>
<polygon points="96.51,422.88 110.95,420.76 114.11,430.38 99.7,432.49" fill="#ecfe9f" stroke="#ecfe9f" stroke-width="0.7"/>
<polygon points="110.95,420.76 125.4,418.66 128.54,428.28 114.11,430.38" fill="#ebfd9e" stroke="#ebfd9e" stroke-width="0.7"/>
<polygon points="125.4,418.66 139.87,416.58 142.97,426.21 128.54,428.28" fill="#e7fb9b" stroke="#e7fb9b" stroke-width="0.7"/>
<polygon points="139.87,416.58 154.35,414.53 157.42,424.16 142.97,426.21" fill="#d5f08e" stroke="#d5f08e" stroke-width="0.7"/>
<polygon points="154.35,414.53 168.84,412.49 171.88,422.13 157.42,424.16" fill="#c8e884" stroke="#c8e884" stroke-width="0.7"/>
<polygon points="168.84,412.49 183.34,410.48 186.36,420.12 171.88,422.13" fill="#aed971" stroke="#aed971" stroke-width="0.7"/>
<polygon points="183.34,410.48 197.86,408.48 200.85,418.12 186.36,420.12" fill="#a3d269" stroke="#a3d269" stroke-width="0.7"/>
<polygon points="197.86,408.48 212.39,406.51 215.35,416.16 200.85,418.12" fill="#9ecf65" stroke="#9ecf65" stroke-width="0.7"/>
<polygon points="212.39,406.51 226.94,404.56 229.86,414.21 215.35,416.16" fill="#9ecf65" stroke="#9ecf65" stroke-width="0.7"/>
<polygon points="226.94,404.56 241.49,402.62 244.38,412.28 229.86,414.21" fill="#a4d36a" stroke="#a4d36a" stroke-width="0.7"/>
<polygon points="241.49,402.62 256.06,400.71 258.92,410.37 244.38,412.28" fill="#c3e580" stroke="#c3e580" stroke-width="0.7"/>
<polygon points="256.06,400.71 270.64,398.82 273.47,408.49 258.92,410.37" fill="#d1ee8b" stroke="#d1ee8b" stroke-width="0.7"/>
<polygon points="270.64,398.82 285.23,396.95 288.04,406.62 273.47,408.49" fill="#b7de78" stroke="#b7de78" stroke-width="0.7"/>
<polygon points="285.23,396.95 299.84,395.11 302.61,404.78 288.04,406.62" fill="#b7de78" stroke="#b7de78" stroke-width="0.7"/>
<polygon points="27.86,443.37 42.2,441.16 45.5,450.75 31.18,452.96" fill="#cdd38a" stroke="#cdd38a" stroke-width="0.7"/>
<polygon points="42.2,441.16 56.56,438.96 59.82,448.56 45.5,450.75" fill="#e2f897" stroke="#e2f897" stroke-width="0.7"/>
<polygon points="56.56,438.96 70.92,436.78 74.16,446.39 59.82,448.56" fill="#e9fc9d" stroke="#e9fc9d" stroke-width="0.7"/>
<polygon points="70.92,436.78 85.31,434.63 88.52,444.24 74.16,446.39" fill="#e4f999" stroke="#e4f999" stroke-width="0.7"/>
<polygon points="85.31,434.63 99.7,432.49 102.88,442.11 88.52,444.24" fill="#e0f796" stroke="#e0f796" stroke-width="0.7"/>
<polygon points="99.7,432.49 114.11,430.38 117.26,440 102.88,442.11" fill="#e4f999" stroke="#e4f999" stroke-width="0.7"/>
<polygon points="114.11,430.38 128.54,428.28 131.65,437.91 117.26,440" fill="#e4f999" stroke="#e4f999" stroke-width="0.7"/>
<polygon points="128.54,428.28 142.97,426.21 146.06,435.84 131.65,437.91" fill="#ddf593" stroke="#ddf593" stroke-width="0.7"/>
<polygon points="142.97,426.21 157.42,424.16 160.48,433.79 146.06,435.84" fill="#d1ee8b" stroke="#d1ee8b" stroke-width="0.7"/>
<polygon points="157.42,424.16 171.88,422.13 174.91,431.76 160.48,433.79" fill="#c8e884" stroke="#c8e884" stroke-width="0.7"/>
<polygon points="171.88,422.13 186.36,420.12 189.36,429.76 174.91,431.76" fill="#c3e580" stroke="#c3e580" stroke-width="0.7"/>
<polygon points="186.36,420.12 200.85,418.12 203.82,427.77 189.36,429.76" fill="#e4f999" stroke="#e4f999" stroke-width="0.7"/>
<polygon points="200.85,418.12 215.35,416.16 218.29,425.8 203.82,427.77" fill="#edffa0" stroke="#edffa0" stroke-width="0.7"/>
<polygon points="215.35,416.16 229.86,414.21 232.77,423.86 218.29,425.8" fill="#c8e884" stroke="#c8e884" stroke-width="0.7"/>
<polygon points="229.86,414.21 244.38,412.28 247.27,421.94 232.77,423.86" fill="#dfeb96" stroke="#dfeb96" stroke-width="0.7"/>
<polygon points="244.38,412.28 258.92,410.37 261.77,420.03 247.27,421.94" fill="#e1ee97" stroke="#e1ee97" stroke-width="0.7"/>
<polygon points="258.92,410.37 273.47,408.49 276.29,418.15 261.77,420.03" fill="#d9e392" stroke="#d9e392" stroke-width="0.7"/>
<polygon points="273.47,408.49 288.04,406.62 290.83,416.29 276.29,418.15" fill="#edfea0" stroke="#edfea0" stroke-width="0.7"/>
<polygon points="288.04,406.62 302.61,404.78 305.37,414.45 290.83,416.29" fill="#edfea0" stroke="#edfea0" stroke-width="0.7"/>
<polygon points="31.18,452.96 45.5,450.75 48.78,460.35 34.5,462.55" fill="#def594" stroke="#def594" stroke-width="0.7"/>
<polygon points="45.5,450.75 59.82,448.56 63.08,458.16 48.78,460.35" fill="#e9fc9d" stroke="#e9fc9d" stroke-width="0.7"/>
<polygon points="59.82,448.56 74.16,446.39 77.39,455.99 63.08,458.16" fill="#e2f897" stroke="#e2f897" stroke-width="0.7"/>
<polygon points="74.16,446.39 88.52,444.24 91.71,453.85 77.39,455.99" fill="#d1ee8b" stroke="#d1ee8b" stroke-width="0.7"/>
<polygon points="88.52,444.24 102.88,442.11 106.05,451.72 91.71,453.85" fill="#d5f08e" stroke="#d5f08e" stroke-width="0.7"/>
<polygon points="102.88,442.11 117.26,440 120.4,449.61 106.05,451.72" fill="#d7f18f" stroke="#d7f18f" stroke-width="0.7"/>
<polygon points="117.26,440 131.65,437.91 134.76,447.53 120.4,449.61" fill="#ddf593" stroke="#ddf593" stroke-width="0.7"/>
<polygon points="131.65,437.91 146.06,435.84 149.14,445.47 134.76,447.53" fill="#daf391" stroke="#daf391" stroke-width="0.7"/>
<polygon points="146.06,435.84 160.48,433.79 163.53,443.42 149.14,445.47" fill="#c8e884" stroke="#c8e884" stroke-width="0.7"/>
<polygon points="160.48,433.79 174.91,431.76 177.93,441.4 163.53,443.42" fill="#b1da73" stroke="#b1da73" stroke-width="0.7"/>
<polygon points="174.91,431.76 189.36,429.76 192.35,439.4 177.93,441.4" fill="#bbe07b" stroke="#bbe07b" stroke-width="0.7"/>
<polygon points="189.36,429.76 203.82,427.77 206.78,437.41 192.35,439.4" fill="#edffa0" stroke="#edffa0" stroke-width="0.7"/>
<polygon points="203.82,427.77 218.29,425.8 221.22,435.45 206.78,437.41" fill="#d4dc8f" stroke="#d4dc8f" stroke-width="0.7"/>
<polygon points="218.29,425.8 232.77,423.86 235.67,433.51 221.22,435.45" fill="#e0f796" stroke="#e0f796" stroke-width="0.7"/>
<polygon points="232.77,423.86 247.27,421.94 250.13,431.59 235.67,433.51" fill="#dfeb96" stroke="#dfeb96" stroke-width="0.7"/>
<polygon points="247.27,421.94 261.77,420.03 264.61,429.69 250.13,431.59" fill="#d7e091" stroke="#d7e091" stroke-width="0.7"/>
<polygon points="261.77,420.03 276.29,418.15 279.1,427.82 264.61,429.69" fill="#c4c884" stroke="#c4c884" stroke-width="0.7"/>
<polygon points="276.29,418.15 290.83,416.29 293.6,425.96 279.1,427.82" fill="#b8b87c" stroke="#b8b87c" stroke-width="0.7"/>
<polygon points="290.83,416.29 305.37,414.45 308.12,424.12 293.6,425.96" fill="#b8b87c" stroke="#b8b87c" stroke-width="0.7"/>
<polygon points="34.5,462.55 48.78,460.35 52.05,469.94 37.79,472.15" fill="#def594" stroke="#def594" stroke-width="0.7"/>
<polygon points="48.78,460.35 63.08,458.16 66.31,467.76 52.05,469.94" fill="#e2f897" stroke="#e2f897" stroke-width="0.7"/>
<polygon points="63.08,458.16 77.39,455.99 80.6,465.6 66.31,467.76" fill="#dff695" stroke="#dff695" stroke-width="0.7"/>
<polygon points="77.39,455.99 91.71,453.85 94.89,463.46 80.6,465.6" fill="#c3e580" stroke="#c3e580" stroke-width="0.7"/>
<polygon points="91.71,453.85 106.05,451.72 109.2,461.34 94.89,463.46" fill="#c0e47e" stroke="#c0e47e" stroke-width="0.7"/>
<polygon points="106.05,451.72 120.4,449.61 123.52,459.23 109.2,461.34" fill="#c3e580" stroke="#c3e580" stroke-width="0.7"/>
<polygon points="120.4,449.61 134.76,447.53 137.86,457.15 123.52,459.23" fill="#d1ee8b" stroke="#d1ee8b" stroke-width="0.7"/>
<polygon points="134.76,447.53 149.14,445.47 152.2,455.09 137.86,457.15" fill="#ddf593" stroke="#ddf593" stroke-width="0.7"/>
<polygon points="149.14,445.47 163.53,443.42 166.56,453.05 152.2,455.09" fill="#d1ee8b" stroke="#d1ee8b" stroke-width="0.7"/>
<polygon points="163.53,443.42 177.93,441.4 180.94,451.04 166.56,453.05" fill="#b3dc75" stroke="#b3dc75" stroke-width="0.7"/>
<polygon points="177.93,441.4 192.35,439.4 195.32,449.04 180.94,451.04" fill="#cbea86" stroke="#cbea86" stroke-width="0.7"/>
<polygon points="192.35,439.4 206.78,437.41 209.72,447.06 195.32,449.04" fill="#e4f299" stroke="#e4f299" stroke-width="0.7"/>
<polygon points="206.78,437.41 221.22,435.45 224.13,445.1 209.72,447.06" fill="#cdd38a" stroke="#cdd38a" stroke-width="0.7"/>
<polygon points="221.22,435.45 235.67,433.51 238.56,443.17 224.13,445.1" fill="#edfea0" stroke="#edfea0" stroke-width="0.7"/>
<polygon points="235.67,433.51 250.13,431.59 252.99,441.25 238.56,443.17" fill="#a9a372" stroke="#a9a372" stroke-width="0.7"/>
<polygon points="37.79,472.15 52.05,469.94 55.3,479.54 41.07,481.74" fill="#d5f08e" stroke="#d5f08e" stroke-width="0.7"/>
<polygon points="52.05,469.94 66.31,467.76 69.54,477.36 55.3,479.54" fill="#c8e884" stroke="#c8e884" stroke-width="0.7"/>
<polygon points="66.31,467.76 80.6,465.6 83.79,475.21 69.54,477.36" fill="#bbe07b" stroke="#bbe07b" stroke-width="0.7"/>
<polygon points="80.6,465.6 94.89,463.46 98.06,473.07 83.79,475.21" fill="#c3e580" stroke="#c3e580" stroke-width="0.7"/>
<polygon points="94.89,463.46 109.2,461.34 112.34,470.95 98.06,473.07" fill="#cdeb88" stroke="#cdeb88" stroke-width="0.7"/>
<polygon points="109.2,461.34 123.52,459.23 126.63,468.85 112.34,470.95" fill="#cdeb88" stroke="#cdeb88" stroke-width="0.7"/>
<polygon points="123.52,459.23 137.86,457.15 140.94,466.78 126.63,468.85" fill="#d1ee8b" stroke="#d1ee8b" stroke-width="0.7"/>
<polygon points="137.86,457.15 152.2,455.09 155.26,464.72 140.94,466.78" fill="#d7f18f" stroke="#d7f18f" stroke-width="0.7"/>
<polygon points="152.2,455.09 166.56,453.05 169.59,462.69 155.26,464.72" fill="#ecfe9f" stroke="#ecfe9f" stroke-width="0.7"/>
<polygon points="166.56,453.05 180.94,451.04 183.93,460.67 169.59,462.69" fill="#daf391" stroke="#daf391" stroke-width="0.7"/>
<polygon points="180.94,451.04 195.32,449.04 198.29,458.68 183.93,460.67" fill="#e4f999" stroke="#e4f999" stroke-width="0.7"/>
<polygon points="195.32,449.04 209.72,447.06 212.66,456.71 198.29,458.68" fill="#d7e091" stroke="#d7e091" stroke-width="0.7"/>
<polygon points="209.72,447.06 224.13,445.1 227.04,454.75 212.66,456.71" fill="#c4c884" stroke="#c4c884" stroke-width="0.7"/>
<polygon points="224.13,445.1 238.56,443.17 241.43,452.82 227.04,454.75" fill="#e9f99d" stroke="#e9f99d" stroke-width="0.7"/>
<polygon points="238.56,443.17 252.99,441.25 255.84,450.91 241.43,452.82" fill="#edffa0" stroke="#edffa0" stroke-width="0.7"/>
<polygon points="252.99,441.25 267.44,439.36 270.25,449.02 255.84,450.91" fill="#edffa0" stroke="#edffa0" stroke-width="0.7"/>
<polygon points="267.44,439.36 281.9,437.48 284.68,447.15 270.25,449.02" fill="#edffa0" stroke="#edffa0" stroke-width="0.7"/>
<polygon points="281.9,437.48 296.37,435.63 299.13,445.3 284.68,447.15" fill="#edfea0" stroke="#edfea0" stroke-width="0.7"/>
<polygon points="41.07,481.74 55.3,479.54 58.54,489.14 44.34,491.33" fill="#c3e580" stroke="#c3e580" stroke-width="0.7"/>
<polygon points="55.3,479.54 69.54,477.36 72.75,486.97 58.54,489.14" fill="#b7de78" stroke="#b7de78" stroke-width="0.7"/>
<polygon points="69.54,477.36 83.79,475.21 86.98,484.81 72.75,486.97" fill="#bfe37e" stroke="#bfe37e" stroke-width="0.7"/>
<polygon points="83.79,475.21 98.06,473.07 101.21,482.68 86.98,484.81" fill="#cbea86" stroke="#cbea86" stroke-width="0.7"/>
<polygon points="98.06,473.07 112.34,470.95 115.47,480.57 101.21,482.68" fill="#ceec89" stroke="#ceec89" stroke-width="0.7"/>
<polygon points="112.34,470.95 126.63,468.85 129.73,478.48 115.47,480.57" fill="#e4f999" stroke="#e4f999" stroke-width="0.7"/>
<polygon points="126.63,468.85 140.94,466.78 144.01,476.4 129.73,478.48" fill="#ebfd9e" stroke="#ebfd9e" stroke-width="0.7"/>
<polygon points="140.94,466.78 155.26,464.72 158.29,474.35 144.01,476.4" fill="#ecfe9f" stroke="#ecfe9f" stroke-width="0.7"/>
<polygon points="155.26,464.72 169.59,462.69 172.6,472.32 158.29,474.35" fill="#edffa0" stroke="#edffa0" stroke-width="0.7"/>
<polygon points="169.59,462.69 183.93,460.67 186.91,470.31 172.6,472.32" fill="#e1ee97" stroke="#e1ee97" stroke-width="0.7"/>
<polygon points="183.93,460.67 198.29,458.68 201.24,468.32 186.91,470.31" fill="#dde995" stroke="#dde995" stroke-width="0.7"/>
<polygon points="198.29,458.68 212.66,456.71 215.58,466.35 201.24,468.32" fill="#c0c282" stroke="#c0c282" stroke-width="0.7"/>
<polygon points="212.66,456.71 227.04,454.75 229.93,464.41 215.58,466.35" fill="#b0ad77" stroke="#b0ad77" stroke-width="0.7"/>
<polygon points="227.04,454.75 241.43,452.82 244.29,462.48 229.93,464.41" fill="#d1d88c" stroke="#d1d88c" stroke-width="0.7"/>
<polygon points="241.43,452.82 255.84,450.91 258.67,460.57 244.29,462.48" fill="#e9fc9d" stroke="#e9fc9d" stroke-width="0.7"/>
<polygon points="255.84,450.91 270.25,449.02 273.06,458.68 258.67,460.57" fill="#edffa0" stroke="#edffa0" stroke-width="0.7"/>
<polygon points="270.25,449.02 284.68,447.15 287.46,456.82 273.06,458.68" fill="#d9e392" stroke="#d9e392" stroke-width="0.7"/>
<polygon points="284.68,447.15 299.13,445.3 301.87,454.97 287.46,456.82" fill="#a69f70" stroke="#a69f70" stroke-width="0.7"/>
</g>
<polygon points="27.57,312.02 42.34,309.81 45.73,319.4 30.99,321.61" fill="none" stroke="#ffffff" stroke-width="0.8" stroke-linejoin="miter"/>
<polygon points="117.77,349.23 132.46,347.14 135.63,356.77 120.97,358.85" fill="none" stroke="#ffffff" stroke-width="0.8" stroke-linejoin="miter"/>
<polygon points="150.3,354.7 164.99,352.66 168.08,362.29 153.42,364.33" fill="none" stroke="#ffffff" stroke-width="0.8" stroke-linejoin="miter"/>
<polygon points="127.32,378.09 141.92,376.02 145.05,385.64 130.48,387.71" fill="none" stroke="#ffffff" stroke-width="0.8" stroke-linejoin="miter"/>
<polygon points="156.53,373.96 171.16,371.93 174.22,381.56 159.63,383.59" fill="none" stroke="#ffffff" stroke-width="0.8" stroke-linejoin="miter"/>
<polygon points="145.05,385.64 159.63,383.59 162.71,393.23 148.16,395.27" fill="none" stroke="#ffffff" stroke-width="0.8" stroke-linejoin="miter"/>
<path d="M159.63 383.59L174.22 381.56M162.71 393.23L177.28 391.2M159.63 383.59L162.71 393.23M174.22 381.56L177.28 391.2M103.09 351.34L117.77 349.23M103.09 351.34L106.32 360.95M117.77 349.23L120.97 358.85M174.22 381.56L188.83 379.56M171.16 371.93L174.22 381.56M185.8 369.92L188.83 379.56M98.16 382.3L112.74 380.19M94.93 372.69L98.16 382.3M115.92 389.8L130.48 387.71M112.74 380.19L115.92 389.8M127.32 378.09L130.48 387.71M129.28 337.52L144.01 335.45M144.01 335.45L147.16 345.07M91.69 363.08L106.32 360.95M91.69 363.08L94.93 372.69M168.08 362.29L171.16 371.93M147.16 345.07L161.88 343.03M150.3 354.7L164.99 352.66M161.88 343.03L164.99 352.66M148.16 395.27L162.71 393.23M151.26 404.9L165.78 402.86M148.16 395.27L151.26 404.9M162.71 393.23L165.78 402.86M182.75 360.28L197.43 358.28M185.8 369.92L200.45 367.93M197.43 358.28L200.45 367.93M124.15 368.47L127.32 378.09M114.56 339.61L129.28 337.52M117.77 349.23L132.46 347.14M114.56 339.61L117.77 349.23M130.48 387.71L145.05 385.64M133.62 397.34L148.16 395.27M130.48 387.71L133.62 397.34M145.05 385.64L148.16 395.27M164.99 352.66L179.69 350.64M164.99 352.66L168.08 362.29M179.69 350.64L182.75 360.28M135.63 356.77L150.3 354.7M132.46 347.14L135.63 356.77M120.97 358.85L124.15 368.47" fill="none" stroke="#87872a" stroke-width="2.4" stroke-linecap="square"/>
<path d="M145.05 385.64L159.63 383.59M141.92 376.02L145.05 385.64M156.53 373.96L159.63 383.59M120.97 358.85L135.63 356.77M120.97 358.85L124.15 368.47M127.32 378.09L141.92 376.02M124.15 368.47L127.32 378.09M135.63 356.77L150.3 354.7M150.3 354.7L153.42 364.33M153.42 364.33L168.08 362.29M156.53 373.96L171.16 371.93M168.08 362.29L171.16 371.93" fill="none" stroke="#b9202e" stroke-width="2.2" stroke-linecap="square"/>
<polyline points="15.6,281.2 24,279.1 40.4,275.9 50.9,273.6 56.7,270.7 66.1,266 73.1,261.9 78.3,257.6" fill="none" stroke="#000" stroke-width="0.8" stroke-linejoin="round"/>
</g>
<rect x="15.8" y="257.6" width="274.2" height="233.6" fill="none" stroke="#000" stroke-width="0.8"/>
<text x="25" y="281.8" font-family="Liberation Sans, sans-serif" font-weight="bold" font-size="17.5" fill="#000">c)</text>
<g clip-path="url(#clipd)">
<g shape-rendering="geometricPrecision">
<polygon points="285.1,276.42 301.6,275.34 303.43,285.89 286.96,286.96" fill="#97cb60" stroke="#97cb60" stroke-width="0.7"/>
<polygon points="301.6,275.34 318.1,274.26 319.9,284.81 303.43,285.89" fill="#acd76f" stroke="#acd76f" stroke-width="0.7"/>
<polygon points="318.1,274.26 334.6,273.19 336.37,283.74 319.9,284.81" fill="#b7de78" stroke="#b7de78" stroke-width="0.7"/>
<polygon points="334.6,273.19 351.11,272.11 352.84,282.67 336.37,283.74" fill="#ebfd9e" stroke="#ebfd9e" stroke-width="0.7"/>
<polygon points="351.11,272.11 367.61,271.03 369.31,281.6 352.84,282.67" fill="#e4f299" stroke="#e4f299" stroke-width="0.7"/>
<polygon points="367.61,271.03 384.11,269.95 385.78,280.53 369.31,281.6" fill="#e1ee97" stroke="#e1ee97" stroke-width="0.7"/>
<polygon points="384.11,269.95 400.61,268.87 402.25,279.46 385.78,280.53" fill="#edffa0" stroke="#edffa0" stroke-width="0.7"/>
<polygon points="400.61,268.87 417.11,267.79 418.72,278.39 402.25,279.46" fill="#d5f08e" stroke="#d5f08e" stroke-width="0.7"/>
<polygon points="417.11,267.79 433.62,266.71 435.19,277.32 418.72,278.39" fill="#a9d66d" stroke="#a9d66d" stroke-width="0.7"/>
<polygon points="433.62,266.71 450.12,265.64 451.66,276.24 435.19,277.32" fill="#bdbdbd" stroke="#bdbdbd" stroke-width="0.7"/>
<polygon points="450.12,265.64 466.62,264.56 468.13,275.17 451.66,276.24" fill="#acd76f" stroke="#acd76f" stroke-width="0.7"/>
<polygon points="466.62,264.56 483.12,263.48 484.6,274.1 468.13,275.17" fill="#b7de78" stroke="#b7de78" stroke-width="0.7"/>
<polygon points="483.12,263.48 499.62,262.4 501.07,273.03 484.6,274.1" fill="#c3e580" stroke="#c3e580" stroke-width="0.7"/>
<polygon points="499.62,262.4 516.13,261.32 517.54,271.96 501.07,273.03" fill="#c8e884" stroke="#c8e884" stroke-width="0.7"/>
<polygon points="516.13,261.32 532.63,260.24 534.01,270.89 517.54,271.96" fill="#d5f08e" stroke="#d5f08e" stroke-width="0.7"/>
<polygon points="532.63,260.24 549.13,259.17 550.48,269.82 534.01,270.89" fill="#e0f796" stroke="#e0f796" stroke-width="0.7"/>
<polygon points="549.13,259.17 565.63,258.09 566.94,268.74 550.48,269.82" fill="#edfea0" stroke="#edfea0" stroke-width="0.7"/>
<polygon points="565.63,258.09 582.13,257.01 583.41,267.67 566.94,268.74" fill="#d7e091" stroke="#d7e091" stroke-width="0.7"/>
<polygon points="286.96,286.96 303.43,285.89 305.27,296.43 288.83,297.49" fill="#e8fc9c" stroke="#e8fc9c" stroke-width="0.7"/>
<polygon points="303.43,285.89 319.9,284.81 321.7,295.36 305.27,296.43" fill="#edfea0" stroke="#edfea0" stroke-width="0.7"/>
<polygon points="319.9,284.81 336.37,283.74 338.14,294.3 321.7,295.36" fill="#e5f39a" stroke="#e5f39a" stroke-width="0.7"/>
<polygon points="336.37,283.74 352.84,282.67 354.58,293.24 338.14,294.3" fill="#d7e091" stroke="#d7e091" stroke-width="0.7"/>
<polygon points="352.84,282.67 369.31,281.6 371.01,292.17 354.58,293.24" fill="#cfd68b" stroke="#cfd68b" stroke-width="0.7"/>
<polygon points="369.31,281.6 385.78,280.53 387.45,291.11 371.01,292.17" fill="#c0c282" stroke="#c0c282" stroke-width="0.7"/>
<polygon points="385.78,280.53 402.25,279.46 403.89,290.04 387.45,291.11" fill="#c4c884" stroke="#c4c884" stroke-width="0.7"/>
<polygon points="402.25,279.46 418.72,278.39 420.33,288.98 403.89,290.04" fill="#edffa0" stroke="#edffa0" stroke-width="0.7"/>
<polygon points="418.72,278.39 435.19,277.32 436.76,287.92 420.33,288.98" fill="#bbe07b" stroke="#bbe07b" stroke-width="0.7"/>
<polygon points="435.19,277.32 451.66,276.24 453.2,286.85 436.76,287.92" fill="#aed971" stroke="#aed971" stroke-width="0.7"/>
<polygon points="451.66,276.24 468.13,275.17 469.64,285.79 453.2,286.85" fill="#b3dc75" stroke="#b3dc75" stroke-width="0.7"/>
<polygon points="468.13,275.17 484.6,274.1 486.07,284.72 469.64,285.79" fill="#b3dc75" stroke="#b3dc75" stroke-width="0.7"/>
<polygon points="484.6,274.1 501.07,273.03 502.51,283.66 486.07,284.72" fill="#b3dc75" stroke="#b3dc75" stroke-width="0.7"/>
<polygon points="501.07,273.03 517.54,271.96 518.95,282.59 502.51,283.66" fill="#b7de78" stroke="#b7de78" stroke-width="0.7"/>
<polygon points="517.54,271.96 534.01,270.89 535.38,281.53 518.95,282.59" fill="#c2c2c2" stroke="#c2c2c2" stroke-width="0.7"/>
<polygon points="534.01,270.89 550.48,269.82 551.82,280.47 535.38,281.53" fill="#d1ee8b" stroke="#d1ee8b" stroke-width="0.7"/>
<polygon points="550.48,269.82 566.94,268.74 568.26,279.4 551.82,280.47" fill="#ebfd9e" stroke="#ebfd9e" stroke-width="0.7"/>
<polygon points="566.94,268.74 583.41,267.67 584.69,278.34 568.26,279.4" fill="#e1ee97" stroke="#e1ee97" stroke-width="0.7"/>
<polygon points="288.83,297.49 305.27,296.43 307.1,306.97 290.7,308.03" fill="#dddddd" stroke="#dddddd" stroke-width="0.7"/>
<polygon points="305.27,296.43 321.7,295.36 323.51,305.92 307.1,306.97" fill="#ecfe9f" stroke="#ecfe9f" stroke-width="0.7"/>
<polygon points="321.7,295.36 338.14,294.3 339.91,304.86 323.51,305.92" fill="#e1ee97" stroke="#e1ee97" stroke-width="0.7"/>
<polygon points="338.14,294.3 354.58,293.24 356.31,303.8 339.91,304.86" fill="#d4dc8f" stroke="#d4dc8f" stroke-width="0.7"/>
<polygon points="354.58,293.24 371.01,292.17 372.72,302.74 356.31,303.8" fill="#d1d88c" stroke="#d1d88c" stroke-width="0.7"/>
<polygon points="371.01,292.17 387.45,291.11 389.12,301.69 372.72,302.74" fill="#bec080" stroke="#bec080" stroke-width="0.7"/>
<polygon points="387.45,291.11 403.89,290.04 405.53,300.63 389.12,301.69" fill="#bfc181" stroke="#bfc181" stroke-width="0.7"/>
<polygon points="403.89,290.04 420.33,288.98 421.93,299.57 405.53,300.63" fill="#d9e392" stroke="#d9e392" stroke-width="0.7"/>
<polygon points="420.33,288.98 436.76,287.92 438.33,298.52 421.93,299.57" fill="#edffa0" stroke="#edffa0" stroke-width="0.7"/>
<polygon points="436.76,287.92 453.2,286.85 454.74,297.46 438.33,298.52" fill="#d7f18f" stroke="#d7f18f" stroke-width="0.7"/>
<polygon points="453.2,286.85 469.64,285.79 471.14,296.4 454.74,297.46" fill="#bbe07b" stroke="#bbe07b" stroke-width="0.7"/>
<polygon points="469.64,285.79 486.07,284.72 487.55,295.34 471.14,296.4" fill="#b3dc75" stroke="#b3dc75" stroke-width="0.7"/>
<polygon points="486.07,284.72 502.51,283.66 503.95,294.29 487.55,295.34" fill="#a9d66d" stroke="#a9d66d" stroke-width="0.7"/>
<polygon points="502.51,283.66 518.95,282.59 520.36,293.23 503.95,294.29" fill="#9ecf65" stroke="#9ecf65" stroke-width="0.7"/>
<polygon points="518.95,282.59 535.38,281.53 536.76,292.17 520.36,293.23" fill="#b3dc75" stroke="#b3dc75" stroke-width="0.7"/>
<polygon points="535.38,281.53 551.82,280.47 553.16,291.12 536.76,292.17" fill="#bbe07b" stroke="#bbe07b" stroke-width="0.7"/>
<polygon points="551.82,280.47 568.26,279.4 569.57,290.06 553.16,291.12" fill="#c8e884" stroke="#c8e884" stroke-width="0.7"/>
<polygon points="568.26,279.4 584.69,278.34 585.97,289 569.57,290.06" fill="#d5f08e" stroke="#d5f08e" stroke-width="0.7"/>
<polygon points="290.7,308.03 307.1,306.97 308.93,317.52 292.56,318.57" fill="#b3dc75" stroke="#b3dc75" stroke-width="0.7"/>
<polygon points="307.1,306.97 323.51,305.92 325.31,316.47 308.93,317.52" fill="#cfcfcf" stroke="#cfcfcf" stroke-width="0.7"/>
<polygon points="323.51,305.92 339.91,304.86 341.68,315.42 325.31,316.47" fill="#edffa0" stroke="#edffa0" stroke-width="0.7"/>
<polygon points="339.91,304.86 356.31,303.8 358.05,314.37 341.68,315.42" fill="#e4f299" stroke="#e4f299" stroke-width="0.7"/>
<polygon points="356.31,303.8 372.72,302.74 374.42,313.32 358.05,314.37" fill="#e5f39a" stroke="#e5f39a" stroke-width="0.7"/>
<polygon points="372.72,302.74 389.12,301.69 390.79,312.27 374.42,313.32" fill="#d9e392" stroke="#d9e392" stroke-width="0.7"/>
<polygon points="389.12,301.69 405.53,300.63 407.16,311.22 390.79,312.27" fill="#d5de8f" stroke="#d5de8f" stroke-width="0.7"/>
<polygon points="405.53,300.63 421.93,299.57 423.54,310.17 407.16,311.22" fill="#e4f299" stroke="#e4f299" stroke-width="0.7"/>
<polygon points="421.93,299.57 438.33,298.52 439.91,309.12 423.54,310.17" fill="#edffa0" stroke="#edffa0" stroke-width="0.7"/>
<polygon points="438.33,298.52 454.74,297.46 456.28,308.07 439.91,309.12" fill="#e0f796" stroke="#e0f796" stroke-width="0.7"/>
<polygon points="454.74,297.46 471.14,296.4 472.65,307.02 456.28,308.07" fill="#bbe07b" stroke="#bbe07b" stroke-width="0.7"/>
<polygon points="471.14,296.4 487.55,295.34 489.02,305.97 472.65,307.02" fill="#b6dd77" stroke="#b6dd77" stroke-width="0.7"/>
<polygon points="487.55,295.34 503.95,294.29 505.39,304.92 489.02,305.97" fill="#aed971" stroke="#aed971" stroke-width="0.7"/>
<polygon points="503.95,294.29 520.36,293.23 521.77,303.87 505.39,304.92" fill="#9ecf65" stroke="#9ecf65" stroke-width="0.7"/>
<polygon points="520.36,293.23 536.76,292.17 538.14,302.82 521.77,303.87" fill="#d4d4d4" stroke="#d4d4d4" stroke-width="0.7"/>
<polygon points="536.76,292.17 553.16,291.12 554.51,301.77 538.14,302.82" fill="#b7de78" stroke="#b7de78" stroke-width="0.7"/>
<polygon points="553.16,291.12 569.57,290.06 570.88,300.72 554.51,301.77" fill="#bbe07b" stroke="#bbe07b" stroke-width="0.7"/>
<polygon points="569.57,290.06 585.97,289 587.25,299.67 570.88,300.72" fill="#bee27d" stroke="#bee27d" stroke-width="0.7"/>
<polygon points="292.56,318.57 308.93,317.52 310.77,328.06 294.43,329.1" fill="#acd76f" stroke="#acd76f" stroke-width="0.7"/>
<polygon points="308.93,317.52 325.31,316.47 327.11,327.02 310.77,328.06" fill="#c0c0c0" stroke="#c0c0c0" stroke-width="0.7"/>
<polygon points="325.31,316.47 341.68,315.42 343.45,325.97 327.11,327.02" fill="#bbe07b" stroke="#bbe07b" stroke-width="0.7"/>
<polygon points="341.68,315.42 358.05,314.37 359.79,324.93 343.45,325.97" fill="#e8fc9c" stroke="#e8fc9c" stroke-width="0.7"/>
<polygon points="358.05,314.37 374.42,313.32 376.12,323.89 359.79,324.93" fill="#edffa0" stroke="#edffa0" stroke-width="0.7"/>
<polygon points="374.42,313.32 390.79,312.27 392.46,322.85 376.12,323.89" fill="#edffa0" stroke="#edffa0" stroke-width="0.7"/>
<polygon points="390.79,312.27 407.16,311.22 408.8,321.8 392.46,322.85" fill="#edffa0" stroke="#edffa0" stroke-width="0.7"/>
<polygon points="407.16,311.22 423.54,310.17 425.14,320.76 408.8,321.8" fill="#c2c2c2" stroke="#c2c2c2" stroke-width="0.7"/>
<polygon points="423.54,310.17 439.91,309.12 441.48,319.72 425.14,320.76" fill="#d1ee8b" stroke="#d1ee8b" stroke-width="0.7"/>
<polygon points="439.91,309.12 456.28,308.07 457.82,318.67 441.48,319.72" fill="#c8e884" stroke="#c8e884" stroke-width="0.7"/>
<polygon points="456.28,308.07 472.65,307.02 474.16,317.63 457.82,318.67" fill="#b7de78" stroke="#b7de78" stroke-width="0.7"/>
<polygon points="472.65,307.02 489.02,305.97 490.5,316.59 474.16,317.63" fill="#b6dd77" stroke="#b6dd77" stroke-width="0.7"/>
<polygon points="489.02,305.97 505.39,304.92 506.84,315.54 490.5,316.59" fill="#bbe07b" stroke="#bbe07b" stroke-width="0.7"/>
<polygon points="505.39,304.92 521.77,303.87 523.18,314.5 506.84,315.54" fill="#b7de78" stroke="#b7de78" stroke-width="0.7"/>
<polygon points="521.77,303.87 538.14,302.82 539.51,313.46 523.18,314.5" fill="#c2c2c2" stroke="#c2c2c2" stroke-width="0.7"/>
<polygon points="538.14,302.82 554.51,301.77 555.85,312.42 539.51,313.46" fill="#b7de78" stroke="#b7de78" stroke-width="0.7"/>
<polygon points="554.51,301.77 570.88,300.72 572.19,311.37 555.85,312.42" fill="#dfdfdf" stroke="#dfdfdf" stroke-width="0.7"/>
<polygon points="570.88,300.72 587.25,299.67 588.53,310.33 572.19,311.37" fill="#bee27d" stroke="#bee27d" stroke-width="0.7"/>
<polygon points="294.43,329.1 310.77,328.06 312.6,338.6 296.3,339.64" fill="#d1ee8b" stroke="#d1ee8b" stroke-width="0.7"/>
<polygon points="310.77,328.06 327.11,327.02 328.91,337.57 312.6,338.6" fill="#dfdfdf" stroke="#dfdfdf" stroke-width="0.7"/>
<polygon points="327.11,327.02 343.45,325.97 345.21,336.53 328.91,337.57" fill="#d6d6d6" stroke="#d6d6d6" stroke-width="0.7"/>
<polygon points="343.45,325.97 359.79,324.93 361.52,335.5 345.21,336.53" fill="#b7de78" stroke="#b7de78" stroke-width="0.7"/>
<polygon points="359.79,324.93 376.12,323.89 377.83,334.46 361.52,335.5" fill="#d5f08e" stroke="#d5f08e" stroke-width="0.7"/>
<polygon points="376.12,323.89 392.46,322.85 394.13,333.42 377.83,334.46" fill="#d7f18f" stroke="#d7f18f" stroke-width="0.7"/>
<polygon points="392.46,322.85 408.8,321.8 410.44,332.39 394.13,333.42" fill="#d7f18f" stroke="#d7f18f" stroke-width="0.7"/>
<polygon points="408.8,321.8 425.14,320.76 426.75,331.35 410.44,332.39" fill="#c8e884" stroke="#c8e884" stroke-width="0.7"/>
<polygon points="425.14,320.76 441.48,319.72 443.05,330.32 426.75,331.35" fill="#b5dd76" stroke="#b5dd76" stroke-width="0.7"/>
<polygon points="441.48,319.72 457.82,318.67 459.36,329.28 443.05,330.32" fill="#acd76f" stroke="#acd76f" stroke-width="0.7"/>
<polygon points="457.82,318.67 474.16,317.63 475.67,328.25 459.36,329.28" fill="#a4d36a" stroke="#a4d36a" stroke-width="0.7"/>
<polygon points="474.16,317.63 490.5,316.59 491.97,327.21 475.67,328.25" fill="#b3dc75" stroke="#b3dc75" stroke-width="0.7"/>
<polygon points="490.5,316.59 506.84,315.54 508.28,326.17 491.97,327.21" fill="#c3e580" stroke="#c3e580" stroke-width="0.7"/>
<polygon points="506.84,315.54 523.18,314.5 524.58,325.14 508.28,326.17" fill="#c8e884" stroke="#c8e884" stroke-width="0.7"/>
<polygon points="523.18,314.5 539.51,313.46 540.89,324.1 524.58,325.14" fill="#b2b2b2" stroke="#b2b2b2" stroke-width="0.7"/>
<polygon points="539.51,313.46 555.85,312.42 557.2,323.07 540.89,324.1" fill="#bbe07b" stroke="#bbe07b" stroke-width="0.7"/>
<polygon points="555.85,312.42 572.19,311.37 573.5,322.03 557.2,323.07" fill="#b7de78" stroke="#b7de78" stroke-width="0.7"/>
<polygon points="572.19,311.37 588.53,310.33 589.81,320.99 573.5,322.03" fill="#b7de78" stroke="#b7de78" stroke-width="0.7"/>
<polygon points="296.3,339.64 312.6,338.6 314.44,349.15 298.16,350.18" fill="#edffa0" stroke="#edffa0" stroke-width="0.7"/>
<polygon points="312.6,338.6 328.91,337.57 330.71,348.12 314.44,349.15" fill="#e4f999" stroke="#e4f999" stroke-width="0.7"/>
<polygon points="328.91,337.57 345.21,336.53 346.98,347.09 330.71,348.12" fill="#c3e580" stroke="#c3e580" stroke-width="0.7"/>
<polygon points="345.21,336.53 361.52,335.5 363.26,346.06 346.98,347.09" fill="#b3dc75" stroke="#b3dc75" stroke-width="0.7"/>
<polygon points="361.52,335.5 377.83,334.46 379.53,345.03 363.26,346.06" fill="#b7de78" stroke="#b7de78" stroke-width="0.7"/>
<polygon points="377.83,334.46 394.13,333.42 395.8,344 379.53,345.03" fill="#c3e580" stroke="#c3e580" stroke-width="0.7"/>
<polygon points="394.13,333.42 410.44,332.39 412.08,342.97 395.8,344" fill="#c4e681" stroke="#c4e681" stroke-width="0.7"/>
<polygon points="410.44,332.39 426.75,331.35 428.35,341.95 412.08,342.97" fill="#bbe07b" stroke="#bbe07b" stroke-width="0.7"/>
<polygon points="426.75,331.35 443.05,330.32 444.63,340.92 428.35,341.95" fill="#b9df79" stroke="#b9df79" stroke-width="0.7"/>
<polygon points="443.05,330.32 459.36,329.28 460.9,339.89 444.63,340.92" fill="#d2d2d2" stroke="#d2d2d2" stroke-width="0.7"/>
<polygon points="459.36,329.28 475.67,328.25 477.17,338.86 460.9,339.89" fill="#a7d46c" stroke="#a7d46c" stroke-width="0.7"/>
<polygon points="475.67,328.25 491.97,327.21 493.45,337.83 477.17,338.86" fill="#b6dd77" stroke="#b6dd77" stroke-width="0.7"/>
<polygon points="491.97,327.21 508.28,326.17 509.72,336.8 493.45,337.83" fill="#d6f18f" stroke="#d6f18f" stroke-width="0.7"/>
<polygon points="508.28,326.17 524.58,325.14 525.99,335.77 509.72,336.8" fill="#e4f999" stroke="#e4f999" stroke-width="0.7"/>
<polygon points="524.58,325.14 540.89,324.1 542.27,334.74 525.99,335.77" fill="#ecfe9f" stroke="#ecfe9f" stroke-width="0.7"/>
<polygon points="540.89,324.1 557.2,323.07 558.54,333.72 542.27,334.74" fill="#e0f796" stroke="#e0f796" stroke-width="0.7"/>
<polygon points="557.2,323.07 573.5,322.03 574.82,332.69 558.54,333.72" fill="#d6f18f" stroke="#d6f18f" stroke-width="0.7"/>
<polygon points="573.5,322.03 589.81,320.99 591.09,331.66 574.82,332.69" fill="#d6f18f" stroke="#d6f18f" stroke-width="0.7"/>
<polygon points="281.89,351.2 298.16,350.18 300.03,360.71 283.79,361.73" fill="#e4f299" stroke="#e4f299" stroke-width="0.7"/>
<polygon points="298.16,350.18 314.44,349.15 316.27,359.69 300.03,360.71" fill="#e4f299" stroke="#e4f299" stroke-width="0.7"/>
<polygon points="314.44,349.15 330.71,348.12 332.51,358.67 316.27,359.69" fill="#d8d8d8" stroke="#d8d8d8" stroke-width="0.7"/>
<polygon points="330.71,348.12 346.98,347.09 348.75,357.65 332.51,358.67" fill="#e0f796" stroke="#e0f796" stroke-width="0.7"/>
<polygon points="346.98,347.09 363.26,346.06 364.99,356.63 348.75,357.65" fill="#bbe07b" stroke="#bbe07b" stroke-width="0.7"/>
<polygon points="363.26,346.06 379.53,345.03 381.23,355.6 364.99,356.63" fill="#a9d66d" stroke="#a9d66d" stroke-width="0.7"/>
<polygon points="379.53,345.03 395.8,344 397.47,354.58 381.23,355.6" fill="#bee27d" stroke="#bee27d" stroke-width="0.7"/>
<polygon points="395.8,344 412.08,342.97 413.72,353.56 397.47,354.58" fill="#b3dc75" stroke="#b3dc75" stroke-width="0.7"/>
<polygon points="412.08,342.97 428.35,341.95 429.96,352.54 413.72,353.56" fill="#d4d4d4" stroke="#d4d4d4" stroke-width="0.7"/>
<polygon points="428.35,341.95 444.63,340.92 446.2,351.52 429.96,352.54" fill="#c3e580" stroke="#c3e580" stroke-width="0.7"/>
<polygon points="444.63,340.92 460.9,339.89 462.44,350.5 446.2,351.52" fill="#bbe07b" stroke="#bbe07b" stroke-width="0.7"/>
<polygon points="460.9,339.89 477.17,338.86 478.68,349.47 462.44,350.5" fill="#b7de78" stroke="#b7de78" stroke-width="0.7"/>
<polygon points="477.17,338.86 493.45,337.83 494.92,348.45 478.68,349.47" fill="#c5e782" stroke="#c5e782" stroke-width="0.7"/>
<polygon points="493.45,337.83 509.72,336.8 511.16,347.43 494.92,348.45" fill="#ebfd9e" stroke="#ebfd9e" stroke-width="0.7"/>
<polygon points="509.72,336.8 525.99,335.77 527.4,346.41 511.16,347.43" fill="#edffa0" stroke="#edffa0" stroke-width="0.7"/>
<polygon points="525.99,335.77 542.27,334.74 543.65,345.39 527.4,346.41" fill="#ebfc9e" stroke="#ebfc9e" stroke-width="0.7"/>
<polygon points="542.27,334.74 558.54,333.72 559.89,344.37 543.65,345.39" fill="#e9f99d" stroke="#e9f99d" stroke-width="0.7"/>
<polygon points="558.54,333.72 574.82,332.69 576.13,343.34 559.89,344.37" fill="#e6f59b" stroke="#e6f59b" stroke-width="0.7"/>
<polygon points="283.79,361.73 300.03,360.71 301.89,371.25 285.68,372.26" fill="#cdd38a" stroke="#cdd38a" stroke-width="0.7"/>
<polygon points="300.03,360.71 316.27,359.69 318.1,370.23 301.89,371.25" fill="#d7e091" stroke="#d7e091" stroke-width="0.7"/>
<polygon points="316.27,359.69 332.51,358.67 334.31,369.22 318.1,370.23" fill="#edfea0" stroke="#edfea0" stroke-width="0.7"/>
<polygon points="332.51,358.67 348.75,357.65 350.52,368.2 334.31,369.22" fill="#e4f999" stroke="#e4f999" stroke-width="0.7"/>
<polygon points="348.75,357.65 364.99,356.63 366.73,367.19 350.52,368.2" fill="#cbea86" stroke="#cbea86" stroke-width="0.7"/>
<polygon points="364.99,356.63 381.23,355.6 382.94,366.18 366.73,367.19" fill="#b3dc75" stroke="#b3dc75" stroke-width="0.7"/>
<polygon points="381.23,355.6 397.47,354.58 399.15,365.16 382.94,366.18" fill="#d6d6d6" stroke="#d6d6d6" stroke-width="0.7"/>
<polygon points="397.47,354.58 413.72,353.56 415.35,364.15 399.15,365.16" fill="#c2c2c2" stroke="#c2c2c2" stroke-width="0.7"/>
<polygon points="413.72,353.56 429.96,352.54 431.56,363.13 415.35,364.15" fill="#c2c2c2" stroke="#c2c2c2" stroke-width="0.7"/>
<polygon points="429.96,352.54 446.2,351.52 447.77,362.12 431.56,363.13" fill="#737373" stroke="#737373" stroke-width="0.7"/>
<polygon points="446.2,351.52 462.44,350.5 463.98,361.1 447.77,362.12" fill="#c2c2c2" stroke="#c2c2c2" stroke-width="0.7"/>
<polygon points="462.44,350.5 478.68,349.47 480.19,360.09 463.98,361.1" fill="#c8e884" stroke="#c8e884" stroke-width="0.7"/>
<polygon points="478.68,349.47 494.92,348.45 496.4,359.07 480.19,360.09" fill="#c8e884" stroke="#c8e884" stroke-width="0.7"/>
<polygon points="494.92,348.45 511.16,347.43 512.61,358.06 496.4,359.07" fill="#ebfd9e" stroke="#ebfd9e" stroke-width="0.7"/>
<polygon points="511.16,347.43 527.4,346.41 528.81,357.05 512.61,358.06" fill="#e9f99d" stroke="#e9f99d" stroke-width="0.7"/>
<polygon points="527.4,346.41 543.65,345.39 545.02,356.03 528.81,357.05" fill="#e1ee97" stroke="#e1ee97" stroke-width="0.7"/>
<polygon points="543.65,345.39 559.89,344.37 561.23,355.02 545.02,356.03" fill="#e1ee97" stroke="#e1ee97" stroke-width="0.7"/>
<polygon points="559.89,344.37 576.13,343.34 577.44,354 561.23,355.02" fill="#d7e091" stroke="#d7e091" stroke-width="0.7"/>
<polygon points="285.68,372.26 301.89,371.25 303.76,381.78 287.58,382.79" fill="#cdd38a" stroke="#cdd38a" stroke-width="0.7"/>
<polygon points="301.89,371.25 318.1,370.23 319.94,380.78 303.76,381.78" fill="#c4c884" stroke="#c4c884" stroke-width="0.7"/>
<polygon points="318.1,370.23 334.31,369.22 336.11,379.77 319.94,380.78" fill="#e1ee97" stroke="#e1ee97" stroke-width="0.7"/>
<polygon points="334.31,369.22 350.52,368.2 352.29,378.76 336.11,379.77" fill="#edffa0" stroke="#edffa0" stroke-width="0.7"/>
<polygon points="350.52,368.2 366.73,367.19 368.46,377.75 352.29,378.76" fill="#e0f796" stroke="#e0f796" stroke-width="0.7"/>
<polygon points="366.73,367.19 382.94,366.18 384.64,376.75 368.46,377.75" fill="#d5f08e" stroke="#d5f08e" stroke-width="0.7"/>
<polygon points="382.94,366.18 399.15,365.16 400.82,375.74 384.64,376.75" fill="#d5f08e" stroke="#d5f08e" stroke-width="0.7"/>
<polygon points="399.15,365.16 415.35,364.15 416.99,374.73 400.82,375.74" fill="#d5f08e" stroke="#d5f08e" stroke-width="0.7"/>
<polygon points="415.35,364.15 431.56,363.13 433.17,373.73 416.99,374.73" fill="#626262" stroke="#626262" stroke-width="0.7"/>
<polygon points="431.56,363.13 447.77,362.12 449.34,372.72 433.17,373.73" fill="#2f2f2f" stroke="#2f2f2f" stroke-width="0.7"/>
<polygon points="447.77,362.12 463.98,361.1 465.52,371.71 449.34,372.72" fill="#484848" stroke="#484848" stroke-width="0.7"/>
<polygon points="463.98,361.1 480.19,360.09 481.7,370.7 465.52,371.71" fill="#e2e2e2" stroke="#e2e2e2" stroke-width="0.7"/>
<polygon points="480.19,360.09 496.4,359.07 497.87,369.7 481.7,370.7" fill="#dfdfdf" stroke="#dfdfdf" stroke-width="0.7"/>
<polygon points="496.4,359.07 512.61,358.06 514.05,368.69 497.87,369.7" fill="#edffa0" stroke="#edffa0" stroke-width="0.7"/>
<polygon points="512.61,358.06 528.81,357.05 530.22,367.68 514.05,368.69" fill="#e1ee97" stroke="#e1ee97" stroke-width="0.7"/>
<polygon points="528.81,357.05 545.02,356.03 546.4,366.67 530.22,367.68" fill="#d4dc8f" stroke="#d4dc8f" stroke-width="0.7"/>
<polygon points="545.02,356.03 561.23,355.02 562.58,365.67 546.4,366.67" fill="#cfd68b" stroke="#cfd68b" stroke-width="0.7"/>
<polygon points="561.23,355.02 577.44,354 578.75,364.66 562.58,365.67" fill="#baba7d" stroke="#baba7d" stroke-width="0.7"/>
<polygon points="287.58,382.79 303.76,381.78 305.63,392.32 289.48,393.32" fill="#c4c884" stroke="#c4c884" stroke-width="0.7"/>
<polygon points="303.76,381.78 319.94,380.78 321.77,391.32 305.63,392.32" fill="#b0ad77" stroke="#b0ad77" stroke-width="0.7"/>
<polygon points="319.94,380.78 336.11,379.77 337.91,390.32 321.77,391.32" fill="#d7e091" stroke="#d7e091" stroke-width="0.7"/>
<polygon points="336.11,379.77 352.29,378.76 354.06,389.32 337.91,390.32" fill="#d8d8d8" stroke="#d8d8d8" stroke-width="0.7"/>
<polygon points="352.29,378.76 368.46,377.75 370.2,388.32 354.06,389.32" fill="#edffa0" stroke="#edffa0" stroke-width="0.7"/>
<polygon points="368.46,377.75 384.64,376.75 386.34,387.32 370.2,388.32" fill="#edffa0" stroke="#edffa0" stroke-width="0.7"/>
<polygon points="384.64,376.75 400.82,375.74 402.49,386.32 386.34,387.32" fill="#e9f99d" stroke="#e9f99d" stroke-width="0.7"/>
<polygon points="400.82,375.74 416.99,374.73 418.63,385.32 402.49,386.32" fill="#a0a0a0" stroke="#a0a0a0" stroke-width="0.7"/>
<polygon points="416.99,374.73 433.17,373.73 434.77,384.32 418.63,385.32" fill="#c8c8c8" stroke="#c8c8c8" stroke-width="0.7"/>
<polygon points="433.17,373.73 449.34,372.72 450.92,383.32 434.77,384.32" fill="#3a3a3a" stroke="#3a3a3a" stroke-width="0.7"/>
<polygon points="449.34,372.72 465.52,371.71 467.06,382.32 450.92,383.32" fill="#626262" stroke="#626262" stroke-width="0.7"/>
<polygon points="465.52,371.71 481.7,370.7 483.2,381.32 467.06,382.32" fill="#dddddd" stroke="#dddddd" stroke-width="0.7"/>
<polygon points="481.7,370.7 497.87,369.7 499.35,380.32 483.2,381.32" fill="#c8e884" stroke="#c8e884" stroke-width="0.7"/>
<polygon points="497.87,369.7 514.05,368.69 515.49,379.32 499.35,380.32" fill="#ecfe9f" stroke="#ecfe9f" stroke-width="0.7"/>
<polygon points="514.05,368.69 530.22,367.68 531.63,378.32 515.49,379.32" fill="#e4f299" stroke="#e4f299" stroke-width="0.7"/>
<polygon points="530.22,367.68 546.4,366.67 547.78,377.32 531.63,378.32" fill="#d4dc8f" stroke="#d4dc8f" stroke-width="0.7"/>
<polygon points="546.4,366.67 562.58,365.67 563.92,376.32 547.78,377.32" fill="#c0c282" stroke="#c0c282" stroke-width="0.7"/>
<polygon points="321.77,391.32 337.91,390.32 339.71,400.87 323.6,401.86" fill="#b5b47a" stroke="#b5b47a" stroke-width="0.7"/>
<polygon points="337.91,390.32 354.06,389.32 355.82,399.88 339.71,400.87" fill="#d7e091" stroke="#d7e091" stroke-width="0.7"/>
<polygon points="354.06,389.32 370.2,388.32 371.94,398.88 355.82,399.88" fill="#e6f59b" stroke="#e6f59b" stroke-width="0.7"/>
<polygon points="370.2,388.32 386.34,387.32 388.05,397.89 371.94,398.88" fill="#ecfd9f" stroke="#ecfd9f" stroke-width="0.7"/>
<polygon points="386.34,387.32 402.49,386.32 404.16,396.9 388.05,397.89" fill="#e5f39a" stroke="#e5f39a" stroke-width="0.7"/>
<polygon points="402.49,386.32 418.63,385.32 420.27,395.9 404.16,396.9" fill="#edfea0" stroke="#edfea0" stroke-width="0.7"/>
<polygon points="418.63,385.32 434.77,384.32 436.38,394.91 420.27,395.9" fill="#dbdbdb" stroke="#dbdbdb" stroke-width="0.7"/>
<polygon points="434.77,384.32 450.92,383.32 452.49,393.92 436.38,394.91" fill="#5d5d5d" stroke="#5d5d5d" stroke-width="0.7"/>
<polygon points="450.92,383.32 467.06,382.32 468.6,392.93 452.49,393.92" fill="#b6b6b6" stroke="#b6b6b6" stroke-width="0.7"/>
<polygon points="467.06,382.32 483.2,381.32 484.71,391.93 468.6,392.93" fill="#b3dc75" stroke="#b3dc75" stroke-width="0.7"/>
<polygon points="483.2,381.32 499.35,380.32 500.82,390.94 484.71,391.93" fill="#d5f08e" stroke="#d5f08e" stroke-width="0.7"/>
<polygon points="499.35,380.32 515.49,379.32 516.93,389.95 500.82,390.94" fill="#ebfd9e" stroke="#ebfd9e" stroke-width="0.7"/>
<polygon points="515.49,379.32 531.63,378.32 533.04,388.95 516.93,389.95" fill="#e9f99d" stroke="#e9f99d" stroke-width="0.7"/>
<polygon points="531.63,378.32 547.78,377.32 549.15,387.96 533.04,388.95" fill="#d7e091" stroke="#d7e091" stroke-width="0.7"/>
<polygon points="547.78,377.32 563.92,376.32 565.26,386.97 549.15,387.96" fill="#cfd68b" stroke="#cfd68b" stroke-width="0.7"/>
<polygon points="563.92,376.32 580.06,375.32 581.38,385.97 565.26,386.97" fill="#d4dc8f" stroke="#d4dc8f" stroke-width="0.7"/>
<polygon points="323.6,401.86 339.71,400.87 341.51,411.42 325.44,412.41" fill="#b4b279" stroke="#b4b279" stroke-width="0.7"/>
<polygon points="339.71,400.87 355.82,399.88 357.59,410.44 341.51,411.42" fill="#d2da8d" stroke="#d2da8d" stroke-width="0.7"/>
<polygon points="355.82,399.88 371.94,398.88 373.67,409.45 357.59,410.44" fill="#e5f39a" stroke="#e5f39a" stroke-width="0.7"/>
<polygon points="371.94,398.88 388.05,397.89 389.75,408.46 373.67,409.45" fill="#e6f59b" stroke="#e6f59b" stroke-width="0.7"/>
<polygon points="388.05,397.89 404.16,396.9 405.83,407.48 389.75,408.46" fill="#e6f59b" stroke="#e6f59b" stroke-width="0.7"/>
<polygon points="404.16,396.9 420.27,395.9 421.91,406.49 405.83,407.48" fill="#edffa0" stroke="#edffa0" stroke-width="0.7"/>
<polygon points="420.27,395.9 436.38,394.91 437.98,405.5 421.91,406.49" fill="#d5f08e" stroke="#d5f08e" stroke-width="0.7"/>
<polygon points="436.38,394.91 452.49,393.92 454.06,404.52 437.98,405.5" fill="#dfdfdf" stroke="#dfdfdf" stroke-width="0.7"/>
<polygon points="452.49,393.92 468.6,392.93 470.14,403.53 454.06,404.52" fill="#b3dc75" stroke="#b3dc75" stroke-width="0.7"/>
<polygon points="468.6,392.93 484.71,391.93 486.22,402.55 470.14,403.53" fill="#b3dc75" stroke="#b3dc75" stroke-width="0.7"/>
<polygon points="484.71,391.93 500.82,390.94 502.3,401.56 486.22,402.55" fill="#c8e884" stroke="#c8e884" stroke-width="0.7"/>
<polygon points="500.82,390.94 516.93,389.95 518.37,400.57 502.3,401.56" fill="#e0f796" stroke="#e0f796" stroke-width="0.7"/>
<polygon points="516.93,389.95 533.04,388.95 534.45,399.59 518.37,400.57" fill="#edffa0" stroke="#edffa0" stroke-width="0.7"/>
<polygon points="533.04,388.95 549.15,387.96 550.53,398.6 534.45,399.59" fill="#edfea0" stroke="#edfea0" stroke-width="0.7"/>
<polygon points="549.15,387.96 565.26,386.97 566.61,397.62 550.53,398.6" fill="#edfea0" stroke="#edfea0" stroke-width="0.7"/>
<polygon points="565.26,386.97 581.38,385.97 582.69,396.63 566.61,397.62" fill="#d5f08e" stroke="#d5f08e" stroke-width="0.7"/>
<polygon points="293.28,414.38 309.36,413.39 311.22,423.93 295.18,424.91" fill="#c0c282" stroke="#c0c282" stroke-width="0.7"/>
<polygon points="325.44,412.41 341.51,411.42 343.32,421.97 327.27,422.95" fill="#b8b87c" stroke="#b8b87c" stroke-width="0.7"/>
<polygon points="341.51,411.42 357.59,410.44 359.36,420.99 343.32,421.97" fill="#d7e091" stroke="#d7e091" stroke-width="0.7"/>
<polygon points="357.59,410.44 373.67,409.45 375.41,420.01 359.36,420.99" fill="#d8d8d8" stroke="#d8d8d8" stroke-width="0.7"/>
<polygon points="373.67,409.45 389.75,408.46 391.45,419.04 375.41,420.01" fill="#e6f59b" stroke="#e6f59b" stroke-width="0.7"/>
<polygon points="389.75,408.46 405.83,407.48 407.5,418.06 391.45,419.04" fill="#ecfd9f" stroke="#ecfd9f" stroke-width="0.7"/>
<polygon points="405.83,407.48 421.91,406.49 423.54,417.08 407.5,418.06" fill="#edffa0" stroke="#edffa0" stroke-width="0.7"/>
<polygon points="421.91,406.49 437.98,405.5 439.59,416.1 423.54,417.08" fill="#e0f796" stroke="#e0f796" stroke-width="0.7"/>
<polygon points="437.98,405.5 454.06,404.52 455.63,415.12 439.59,416.1" fill="#c3e580" stroke="#c3e580" stroke-width="0.7"/>
<polygon points="454.06,404.52 470.14,403.53 471.68,414.14 455.63,415.12" fill="#aed971" stroke="#aed971" stroke-width="0.7"/>
<polygon points="470.14,403.53 486.22,402.55 487.73,413.16 471.68,414.14" fill="#b1da73" stroke="#b1da73" stroke-width="0.7"/>
<polygon points="486.22,402.55 502.3,401.56 503.77,412.18 487.73,413.16" fill="#c8e884" stroke="#c8e884" stroke-width="0.7"/>
<polygon points="502.3,401.56 518.37,400.57 519.82,411.2 503.77,412.18" fill="#cbea86" stroke="#cbea86" stroke-width="0.7"/>
<polygon points="518.37,400.57 534.45,399.59 535.86,410.22 519.82,411.2" fill="#d1ee8b" stroke="#d1ee8b" stroke-width="0.7"/>
<polygon points="534.45,399.59 550.53,398.6 551.91,409.25 535.86,410.22" fill="#d5f08e" stroke="#d5f08e" stroke-width="0.7"/>
<polygon points="550.53,398.6 566.61,397.62 567.95,408.27 551.91,409.25" fill="#d1ee8b" stroke="#d1ee8b" stroke-width="0.7"/>
<polygon points="566.61,397.62 582.69,396.63 584,407.29 567.95,408.27" fill="#b3dc75" stroke="#b3dc75" stroke-width="0.7"/>
<polygon points="295.18,424.91 311.22,423.93 313.09,434.47 297.08,435.44" fill="#c0c282" stroke="#c0c282" stroke-width="0.7"/>
<polygon points="311.22,423.93 327.27,422.95 329.1,433.49 313.09,434.47" fill="#baba7d" stroke="#baba7d" stroke-width="0.7"/>
<polygon points="327.27,422.95 343.32,421.97 345.12,432.52 329.1,433.49" fill="#d7e091" stroke="#d7e091" stroke-width="0.7"/>
<polygon points="343.32,421.97 359.36,420.99 361.13,431.55 345.12,432.52" fill="#e6f59b" stroke="#e6f59b" stroke-width="0.7"/>
<polygon points="359.36,420.99 375.41,420.01 377.14,430.58 361.13,431.55" fill="#ecfd9f" stroke="#ecfd9f" stroke-width="0.7"/>
<polygon points="375.41,420.01 391.45,419.04 393.16,429.61 377.14,430.58" fill="#ecfd9f" stroke="#ecfd9f" stroke-width="0.7"/>
<polygon points="391.45,419.04 407.5,418.06 409.17,428.64 393.16,429.61" fill="#edffa0" stroke="#edffa0" stroke-width="0.7"/>
<polygon points="407.5,418.06 423.54,417.08 425.18,427.66 409.17,428.64" fill="#edffa0" stroke="#edffa0" stroke-width="0.7"/>
<polygon points="423.54,417.08 439.59,416.1 441.19,426.69 425.18,427.66" fill="#e0f796" stroke="#e0f796" stroke-width="0.7"/>
<polygon points="439.59,416.1 455.63,415.12 457.21,425.72 441.19,426.69" fill="#cbea86" stroke="#cbea86" stroke-width="0.7"/>
<polygon points="455.63,415.12 471.68,414.14 473.22,424.75 457.21,425.72" fill="#c8e884" stroke="#c8e884" stroke-width="0.7"/>
<polygon points="471.68,414.14 487.73,413.16 489.23,423.78 473.22,424.75" fill="#cbea86" stroke="#cbea86" stroke-width="0.7"/>
<polygon points="487.73,413.16 503.77,412.18 505.25,422.8 489.23,423.78" fill="#c9e985" stroke="#c9e985" stroke-width="0.7"/>
<polygon points="503.77,412.18 519.82,411.2 521.26,421.83 505.25,422.8" fill="#c3e580" stroke="#c3e580" stroke-width="0.7"/>
<polygon points="519.82,411.2 535.86,410.22 537.27,420.86 521.26,421.83" fill="#c3e580" stroke="#c3e580" stroke-width="0.7"/>
<polygon points="535.86,410.22 551.91,409.25 553.29,419.89 537.27,420.86" fill="#ddf593" stroke="#ddf593" stroke-width="0.7"/>
<polygon points="551.91,409.25 567.95,408.27 569.3,418.92 553.29,419.89" fill="#e8fc9c" stroke="#e8fc9c" stroke-width="0.7"/>
<polygon points="567.95,408.27 584,407.29 585.31,417.94 569.3,418.92" fill="#e8fc9c" stroke="#e8fc9c" stroke-width="0.7"/>
<polygon points="281.06,436.41 297.08,435.44 298.98,445.97 283,446.93" fill="#c4c884" stroke="#c4c884" stroke-width="0.7"/>
<polygon points="297.08,435.44 313.09,434.47 314.96,445 298.98,445.97" fill="#c4c884" stroke="#c4c884" stroke-width="0.7"/>
<polygon points="313.09,434.47 329.1,433.49 330.94,444.04 314.96,445" fill="#c4c884" stroke="#c4c884" stroke-width="0.7"/>
<polygon points="329.1,433.49 345.12,432.52 346.92,443.07 330.94,444.04" fill="#e4f299" stroke="#e4f299" stroke-width="0.7"/>
<polygon points="345.12,432.52 361.13,431.55 362.9,442.11 346.92,443.07" fill="#edffa0" stroke="#edffa0" stroke-width="0.7"/>
<polygon points="361.13,431.55 377.14,430.58 378.88,441.14 362.9,442.11" fill="#edffa0" stroke="#edffa0" stroke-width="0.7"/>
<polygon points="377.14,430.58 393.16,429.61 394.86,440.18 378.88,441.14" fill="#ecfe9f" stroke="#ecfe9f" stroke-width="0.7"/>
<polygon points="393.16,429.61 409.17,428.64 410.84,439.21 394.86,440.18" fill="#ebfd9e" stroke="#ebfd9e" stroke-width="0.7"/>
<polygon points="409.17,428.64 425.18,427.66 426.82,438.25 410.84,439.21" fill="#e9fc9d" stroke="#e9fc9d" stroke-width="0.7"/>
<polygon points="425.18,427.66 441.19,426.69 442.8,437.28 426.82,438.25" fill="#ddf593" stroke="#ddf593" stroke-width="0.7"/>
<polygon points="441.19,426.69 457.21,425.72 458.78,436.32 442.8,437.28" fill="#cbea86" stroke="#cbea86" stroke-width="0.7"/>
<polygon points="457.21,425.72 473.22,424.75 474.76,435.35 458.78,436.32" fill="#c3e580" stroke="#c3e580" stroke-width="0.7"/>
<polygon points="473.22,424.75 489.23,423.78 490.74,434.39 474.76,435.35" fill="#d1ee8b" stroke="#d1ee8b" stroke-width="0.7"/>
<polygon points="489.23,423.78 505.25,422.8 506.72,433.43 490.74,434.39" fill="#d1ee8b" stroke="#d1ee8b" stroke-width="0.7"/>
<polygon points="505.25,422.8 521.26,421.83 522.7,432.46 506.72,433.43" fill="#d5f08e" stroke="#d5f08e" stroke-width="0.7"/>
<polygon points="521.26,421.83 537.27,420.86 538.68,431.5 522.7,432.46" fill="#d7f18f" stroke="#d7f18f" stroke-width="0.7"/>
<polygon points="537.27,420.86 553.29,419.89 554.66,430.53 538.68,431.5" fill="#e6f59b" stroke="#e6f59b" stroke-width="0.7"/>
<polygon points="553.29,419.89 569.3,418.92 570.64,429.57 554.66,430.53" fill="#d4dc8f" stroke="#d4dc8f" stroke-width="0.7"/>
<polygon points="569.3,418.92 585.31,417.94 586.62,428.6 570.64,429.57" fill="#d4dc8f" stroke="#d4dc8f" stroke-width="0.7"/>
<polygon points="283,446.93 298.98,445.97 300.87,456.5 284.93,457.45" fill="#d4dc8f" stroke="#d4dc8f" stroke-width="0.7"/>
<polygon points="298.98,445.97 314.96,445 316.82,455.54 300.87,456.5" fill="#d4dc8f" stroke="#d4dc8f" stroke-width="0.7"/>
<polygon points="314.96,445 330.94,444.04 332.77,454.58 316.82,455.54" fill="#d1d88c" stroke="#d1d88c" stroke-width="0.7"/>
<polygon points="330.94,444.04 346.92,443.07 348.72,453.62 332.77,454.58" fill="#ecfd9f" stroke="#ecfd9f" stroke-width="0.7"/>
<polygon points="346.92,443.07 362.9,442.11 364.67,452.67 348.72,453.62" fill="#e4f999" stroke="#e4f999" stroke-width="0.7"/>
<polygon points="362.9,442.11 378.88,441.14 380.61,451.71 364.67,452.67" fill="#e0f796" stroke="#e0f796" stroke-width="0.7"/>
<polygon points="378.88,441.14 394.86,440.18 396.56,450.75 380.61,451.71" fill="#e0f796" stroke="#e0f796" stroke-width="0.7"/>
<polygon points="394.86,440.18 410.84,439.21 412.51,449.79 396.56,450.75" fill="#e0f796" stroke="#e0f796" stroke-width="0.7"/>
<polygon points="410.84,439.21 426.82,438.25 428.46,448.84 412.51,449.79" fill="#e0f796" stroke="#e0f796" stroke-width="0.7"/>
<polygon points="426.82,438.25 442.8,437.28 444.4,447.88 428.46,448.84" fill="#daf391" stroke="#daf391" stroke-width="0.7"/>
<polygon points="442.8,437.28 458.78,436.32 460.35,446.92 444.4,447.88" fill="#c8e884" stroke="#c8e884" stroke-width="0.7"/>
<polygon points="458.78,436.32 474.76,435.35 476.3,445.96 460.35,446.92" fill="#c3e580" stroke="#c3e580" stroke-width="0.7"/>
<polygon points="474.76,435.35 490.74,434.39 492.25,445 476.3,445.96" fill="#d6f18f" stroke="#d6f18f" stroke-width="0.7"/>
<polygon points="490.74,434.39 506.72,433.43 508.2,444.05 492.25,445" fill="#edffa0" stroke="#edffa0" stroke-width="0.7"/>
<polygon points="506.72,433.43 522.7,432.46 524.14,443.09 508.2,444.05" fill="#e7f69c" stroke="#e7f69c" stroke-width="0.7"/>
<polygon points="522.7,432.46 538.68,431.5 540.09,442.13 524.14,443.09" fill="#edffa0" stroke="#edffa0" stroke-width="0.7"/>
<polygon points="538.68,431.5 554.66,430.53 556.04,441.17 540.09,442.13" fill="#d1d88c" stroke="#d1d88c" stroke-width="0.7"/>
<polygon points="554.66,430.53 570.64,429.57 571.99,440.22 556.04,441.17" fill="#b5b47a" stroke="#b5b47a" stroke-width="0.7"/>
<polygon points="284.93,457.45 300.87,456.5 302.77,467.03 286.86,467.98" fill="#edfea0" stroke="#edfea0" stroke-width="0.7"/>
<polygon points="300.87,456.5 316.82,455.54 318.69,466.08 302.77,467.03" fill="#edfea0" stroke="#edfea0" stroke-width="0.7"/>
<polygon points="316.82,455.54 332.77,454.58 334.6,465.13 318.69,466.08" fill="#e7f69c" stroke="#e7f69c" stroke-width="0.7"/>
<polygon points="332.77,454.58 348.72,453.62 350.52,464.17 334.6,465.13" fill="#ecfe9f" stroke="#ecfe9f" stroke-width="0.7"/>
<polygon points="348.72,453.62 364.67,452.67 366.43,463.22 350.52,464.17" fill="#d7f18f" stroke="#d7f18f" stroke-width="0.7"/>
<polygon points="364.67,452.67 380.61,451.71 382.35,462.27 366.43,463.22" fill="#d5f08e" stroke="#d5f08e" stroke-width="0.7"/>
<polygon points="380.61,451.71 396.56,450.75 398.26,461.32 382.35,462.27" fill="#d5f08e" stroke="#d5f08e" stroke-width="0.7"/>
<polygon points="396.56,450.75 412.51,449.79 414.18,460.37 398.26,461.32" fill="#d8d8d8" stroke="#d8d8d8" stroke-width="0.7"/>
<polygon points="412.51,449.79 428.46,448.84 430.09,459.42 414.18,460.37" fill="#daf391" stroke="#daf391" stroke-width="0.7"/>
<polygon points="428.46,448.84 444.4,447.88 446.01,458.47 430.09,459.42" fill="#ddf593" stroke="#ddf593" stroke-width="0.7"/>
<polygon points="444.4,447.88 460.35,446.92 461.93,457.52 446.01,458.47" fill="#d1ee8b" stroke="#d1ee8b" stroke-width="0.7"/>
<polygon points="460.35,446.92 476.3,445.96 477.84,456.57 461.93,457.52" fill="#d1ee8b" stroke="#d1ee8b" stroke-width="0.7"/>
<polygon points="476.3,445.96 492.25,445 493.76,455.62 477.84,456.57" fill="#daf391" stroke="#daf391" stroke-width="0.7"/>
<polygon points="492.25,445 508.2,444.05 509.67,454.67 493.76,455.62" fill="#dfeb96" stroke="#dfeb96" stroke-width="0.7"/>
<polygon points="508.2,444.05 524.14,443.09 525.59,453.72 509.67,454.67" fill="#d9e392" stroke="#d9e392" stroke-width="0.7"/>
<polygon points="524.14,443.09 540.09,442.13 541.5,452.77 525.59,453.72" fill="#e5f39a" stroke="#e5f39a" stroke-width="0.7"/>
<polygon points="540.09,442.13 556.04,441.17 557.42,451.82 541.5,452.77" fill="#cfd68b" stroke="#cfd68b" stroke-width="0.7"/>
<polygon points="556.04,441.17 571.99,440.22 573.33,450.87 557.42,451.82" fill="#baba7d" stroke="#baba7d" stroke-width="0.7"/>
<polygon points="571.99,440.22 587.93,439.26 589.25,449.92 573.33,450.87" fill="#baba7d" stroke="#baba7d" stroke-width="0.7"/>
<polygon points="286.86,467.98 302.77,467.03 304.67,477.56 288.79,478.5" fill="#d5f08e" stroke="#d5f08e" stroke-width="0.7"/>
<polygon points="302.77,467.03 318.69,466.08 320.55,476.61 304.67,477.56" fill="#d5f08e" stroke="#d5f08e" stroke-width="0.7"/>
<polygon points="318.69,466.08 334.6,465.13 336.44,475.67 320.55,476.61" fill="#e0f796" stroke="#e0f796" stroke-width="0.7"/>
<polygon points="334.6,465.13 350.52,464.17 352.32,474.73 336.44,475.67" fill="#ddf593" stroke="#ddf593" stroke-width="0.7"/>
<polygon points="350.52,464.17 366.43,463.22 368.2,473.78 352.32,474.73" fill="#d1ee8b" stroke="#d1ee8b" stroke-width="0.7"/>
<polygon points="366.43,463.22 382.35,462.27 384.08,472.84 368.2,473.78" fill="#c8e884" stroke="#c8e884" stroke-width="0.7"/>
<polygon points="382.35,462.27 398.26,461.32 399.97,471.89 384.08,472.84" fill="#c8e884" stroke="#c8e884" stroke-width="0.7"/>
<polygon points="398.26,461.32 414.18,460.37 415.85,470.95 399.97,471.89" fill="#cdeb88" stroke="#cdeb88" stroke-width="0.7"/>
<polygon points="414.18,460.37 430.09,459.42 431.73,470.01 415.85,470.95" fill="#d5f08e" stroke="#d5f08e" stroke-width="0.7"/>
<polygon points="430.09,459.42 446.01,458.47 447.62,469.06 431.73,470.01" fill="#e0f796" stroke="#e0f796" stroke-width="0.7"/>
<polygon points="446.01,458.47 461.93,457.52 463.5,468.12 447.62,469.06" fill="#e4f999" stroke="#e4f999" stroke-width="0.7"/>
<polygon points="461.93,457.52 477.84,456.57 479.38,467.18 463.5,468.12" fill="#ecfe9f" stroke="#ecfe9f" stroke-width="0.7"/>
<polygon points="477.84,456.57 493.76,455.62 495.26,466.23 479.38,467.18" fill="#ecfe9f" stroke="#ecfe9f" stroke-width="0.7"/>
<polygon points="493.76,455.62 509.67,454.67 511.15,465.29 495.26,466.23" fill="#d7e091" stroke="#d7e091" stroke-width="0.7"/>
<polygon points="509.67,454.67 525.59,453.72 527.03,464.35 511.15,465.29" fill="#cfd68b" stroke="#cfd68b" stroke-width="0.7"/>
<polygon points="525.59,453.72 541.5,452.77 542.91,463.4 527.03,464.35" fill="#e1ee97" stroke="#e1ee97" stroke-width="0.7"/>
<polygon points="541.5,452.77 557.42,451.82 558.79,462.46 542.91,463.4" fill="#e5f39a" stroke="#e5f39a" stroke-width="0.7"/>
<polygon points="557.42,451.82 573.33,450.87 574.68,461.52 558.79,462.46" fill="#d7e091" stroke="#d7e091" stroke-width="0.7"/>
<polygon points="573.33,450.87 589.25,449.92 590.56,460.57 574.68,461.52" fill="#d7e091" stroke="#d7e091" stroke-width="0.7"/>
<polygon points="288.79,478.5 304.67,477.56 306.57,488.08 290.72,489.02" fill="#ddf593" stroke="#ddf593" stroke-width="0.7"/>
<polygon points="304.67,477.56 320.55,476.61 322.42,487.15 306.57,488.08" fill="#e0f796" stroke="#e0f796" stroke-width="0.7"/>
<polygon points="320.55,476.61 336.44,475.67 338.27,486.21 322.42,487.15" fill="#daf391" stroke="#daf391" stroke-width="0.7"/>
<polygon points="336.44,475.67 352.32,474.73 354.12,485.28 338.27,486.21" fill="#d5f08e" stroke="#d5f08e" stroke-width="0.7"/>
<polygon points="352.32,474.73 368.2,473.78 369.97,484.34 354.12,485.28" fill="#cbea86" stroke="#cbea86" stroke-width="0.7"/>
<polygon points="368.2,473.78 384.08,472.84 385.82,483.4 369.97,484.34" fill="#c8e884" stroke="#c8e884" stroke-width="0.7"/>
<polygon points="384.08,472.84 399.97,471.89 401.67,482.47 385.82,483.4" fill="#d1ee8b" stroke="#d1ee8b" stroke-width="0.7"/>
<polygon points="399.97,471.89 415.85,470.95 417.52,481.53 401.67,482.47" fill="#cdeb88" stroke="#cdeb88" stroke-width="0.7"/>
<polygon points="415.85,470.95 431.73,470.01 433.37,480.59 417.52,481.53" fill="#d5f08e" stroke="#d5f08e" stroke-width="0.7"/>
<polygon points="431.73,470.01 447.62,469.06 449.22,479.66 433.37,480.59" fill="#e0f796" stroke="#e0f796" stroke-width="0.7"/>
<polygon points="447.62,469.06 463.5,468.12 465.07,478.72 449.22,479.66" fill="#edffa0" stroke="#edffa0" stroke-width="0.7"/>
<polygon points="463.5,468.12 479.38,467.18 480.92,477.78 465.07,478.72" fill="#e6f59b" stroke="#e6f59b" stroke-width="0.7"/>
<polygon points="479.38,467.18 495.26,466.23 496.77,476.85 480.92,477.78" fill="#dde995" stroke="#dde995" stroke-width="0.7"/>
<polygon points="495.26,466.23 511.15,465.29 512.62,475.91 496.77,476.85" fill="#c4c884" stroke="#c4c884" stroke-width="0.7"/>
<polygon points="511.15,465.29 527.03,464.35 528.47,474.98 512.62,475.91" fill="#baba7d" stroke="#baba7d" stroke-width="0.7"/>
<polygon points="527.03,464.35 542.91,463.4 544.32,474.04 528.47,474.98" fill="#c4c884" stroke="#c4c884" stroke-width="0.7"/>
<polygon points="542.91,463.4 558.79,462.46 560.17,473.1 544.32,474.04" fill="#d1d88c" stroke="#d1d88c" stroke-width="0.7"/>
<polygon points="558.79,462.46 574.68,461.52 576.02,472.17 560.17,473.1" fill="#cfd68b" stroke="#cfd68b" stroke-width="0.7"/>
<polygon points="574.68,461.52 590.56,460.57 591.87,471.23 576.02,472.17" fill="#cfd68b" stroke="#cfd68b" stroke-width="0.7"/>
</g>
<polygon points="433.62,266.71 450.12,265.64 451.66,276.24 435.19,277.32" fill="none" stroke="#ffffff" stroke-width="0.8" stroke-linejoin="miter"/>
<polygon points="517.54,271.96 534.01,270.89 535.38,281.53 518.95,282.59" fill="none" stroke="#ffffff" stroke-width="0.8" stroke-linejoin="miter"/>
<polygon points="288.83,297.49 305.27,296.43 307.1,306.97 290.7,308.03" fill="none" stroke="#ffffff" stroke-width="0.8" stroke-linejoin="miter"/>
<polygon points="307.1,306.97 323.51,305.92 325.31,316.47 308.93,317.52" fill="none" stroke="#ffffff" stroke-width="0.8" stroke-linejoin="miter"/>
<polygon points="520.36,293.23 536.76,292.17 538.14,302.82 521.77,303.87" fill="none" stroke="#ffffff" stroke-width="0.8" stroke-linejoin="miter"/>
<polygon points="308.93,317.52 325.31,316.47 327.11,327.02 310.77,328.06" fill="none" stroke="#ffffff" stroke-width="0.8" stroke-linejoin="miter"/>
<polygon points="407.16,311.22 423.54,310.17 425.14,320.76 408.8,321.8" fill="none" stroke="#ffffff" stroke-width="0.8" stroke-linejoin="miter"/>
<polygon points="521.77,303.87 538.14,302.82 539.51,313.46 523.18,314.5" fill="none" stroke="#ffffff" stroke-width="0.8" stroke-linejoin="miter"/>
<polygon points="554.51,301.77 570.88,300.72 572.19,311.37 555.85,312.42" fill="none" stroke="#ffffff" stroke-width="0.8" stroke-linejoin="miter"/>
<polygon points="310.77,328.06 327.11,327.02 328.91,337.57 312.6,338.6" fill="none" stroke="#ffffff" stroke-width="0.8" stroke-linejoin="miter"/>
<polygon points="327.11,327.02 343.45,325.97 345.21,336.53 328.91,337.57" fill="none" stroke="#ffffff" stroke-width="0.8" stroke-linejoin="miter"/>
<polygon points="523.18,314.5 539.51,313.46 540.89,324.1 524.58,325.14" fill="none" stroke="#ffffff" stroke-width="0.8" stroke-linejoin="miter"/>
<polygon points="443.05,330.32 459.36,329.28 460.9,339.89 444.63,340.92" fill="none" stroke="#ffffff" stroke-width="0.8" stroke-linejoin="miter"/>
<polygon points="314.44,349.15 330.71,348.12 332.51,358.67 316.27,359.69" fill="none" stroke="#ffffff" stroke-width="0.8" stroke-linejoin="miter"/>
<polygon points="412.08,342.97 428.35,341.95 429.96,352.54 413.72,353.56" fill="none" stroke="#ffffff" stroke-width="0.8" stroke-linejoin="miter"/>
<polygon points="381.23,355.6 397.47,354.58 399.15,365.16 382.94,366.18" fill="none" stroke="#ffffff" stroke-width="0.8" stroke-linejoin="miter"/>
<polygon points="397.47,354.58 413.72,353.56 415.35,364.15 399.15,365.16" fill="none" stroke="#ffffff" stroke-width="0.8" stroke-linejoin="miter"/>
<polygon points="413.72,353.56 429.96,352.54 431.56,363.13 415.35,364.15" fill="none" stroke="#ffffff" stroke-width="0.8" stroke-linejoin="miter"/>
<polygon points="446.2,351.52 462.44,350.5 463.98,361.1 447.77,362.12" fill="none" stroke="#ffffff" stroke-width="0.8" stroke-linejoin="miter"/>
<polygon points="463.98,361.1 480.19,360.09 481.7,370.7 465.52,371.71" fill="none" stroke="#ffffff" stroke-width="0.8" stroke-linejoin="miter"/>
<polygon points="480.19,360.09 496.4,359.07 497.87,369.7 481.7,370.7" fill="none" stroke="#ffffff" stroke-width="0.8" stroke-linejoin="miter"/>
<polygon points="336.11,379.77 352.29,378.76 354.06,389.32 337.91,390.32" fill="none" stroke="#ffffff" stroke-width="0.8" stroke-linejoin="miter"/>
<polygon points="400.82,375.74 416.99,374.73 418.63,385.32 402.49,386.32" fill="none" stroke="#ffffff" stroke-width="0.8" stroke-linejoin="miter"/>
<polygon points="416.99,374.73 433.17,373.73 434.77,384.32 418.63,385.32" fill="none" stroke="#ffffff" stroke-width="0.8" stroke-linejoin="miter"/>
<polygon points="465.52,371.71 481.7,370.7 483.2,381.32 467.06,382.32" fill="none" stroke="#ffffff" stroke-width="0.8" stroke-linejoin="miter"/>
<polygon points="418.63,385.32 434.77,384.32 436.38,394.91 420.27,395.9" fill="none" stroke="#ffffff" stroke-width="0.8" stroke-linejoin="miter"/>
<polygon points="450.92,383.32 467.06,382.32 468.6,392.93 452.49,393.92" fill="none" stroke="#ffffff" stroke-width="0.8" stroke-linejoin="miter"/>
<polygon points="436.38,394.91 452.49,393.92 454.06,404.52 437.98,405.5" fill="none" stroke="#ffffff" stroke-width="0.8" stroke-linejoin="miter"/>
<polygon points="357.59,410.44 373.67,409.45 375.41,420.01 359.36,420.99" fill="none" stroke="#ffffff" stroke-width="0.8" stroke-linejoin="miter"/>
<polygon points="396.56,450.75 412.51,449.79 414.18,460.37 398.26,461.32" fill="none" stroke="#ffffff" stroke-width="0.8" stroke-linejoin="miter"/>
<path d="M460.9 339.89L477.17 338.86M477.17 338.86L478.68 349.47M499.35 380.32L515.49 379.32M514.05 368.69L515.49 379.32M399.15 365.16L415.35 364.15M400.82 375.74L416.99 374.73M415.35 364.15L416.99 374.73M443.05 330.32L444.63 340.92M405.83 407.48L421.91 406.49M404.16 396.9L405.83 407.48M484.71 391.93L500.82 390.94M499.35 380.32L500.82 390.94M478.68 349.47L494.92 348.45M480.19 360.09L496.4 359.07M494.92 348.45L496.4 359.07M384.64 376.75L386.34 387.32M400.82 375.74L402.49 386.32M470.14 403.53L486.22 402.55M484.71 391.93L486.22 402.55M496.4 359.07L512.61 358.06M496.4 359.07L497.87 369.7M512.61 358.06L514.05 368.69M402.49 386.32L418.63 385.32M418.63 385.32L420.27 395.9M444.63 340.92L460.9 339.89M446.2 351.52L462.44 350.5M425.14 320.76L441.48 319.72M425.14 320.76L426.75 331.35M441.48 319.72L443.05 330.32M423.54 417.08L439.59 416.1M421.91 406.49L423.54 417.08M441.19 426.69L457.21 425.72M439.59 416.1L441.19 426.69M455.63 415.12L457.21 425.72M455.63 415.12L471.68 414.14M470.14 403.53L471.68 414.14M481.7 370.7L497.87 369.7M481.7 370.7L483.2 381.32M382.94 366.18L399.15 365.16M467.06 382.32L483.2 381.32M467.06 382.32L468.6 392.93M463.98 361.1L480.19 360.09M462.44 350.5L463.98 361.1M395.8 344L412.08 342.97M397.47 354.58L413.72 353.56M395.8 344L397.47 354.58M412.08 342.97L413.72 353.56M410.44 332.39L426.75 331.35M412.08 342.97L428.35 341.95M410.44 332.39L412.08 342.97M420.27 395.9L436.38 394.91M436.38 394.91L437.98 405.5M429.96 352.54L446.2 351.52M428.35 341.95L429.96 352.54M437.98 405.5L454.06 404.52M452.49 393.92L468.6 392.93M452.49 393.92L454.06 404.52M388.05 397.89L404.16 396.9M386.34 387.32L388.05 397.89M366.73 367.19L382.94 366.18M368.46 377.75L384.64 376.75M366.73 367.19L368.46 377.75" fill="none" stroke="#87872a" stroke-width="2.4" stroke-linecap="square"/>
<path d="M436.38 394.91L452.49 393.92M434.77 384.32L436.38 394.91M450.92 383.32L452.49 393.92M450.92 383.32L467.06 382.32M465.52 371.71L467.06 382.32M429.96 352.54L446.2 351.52M429.96 352.54L431.56 363.13M446.2 351.52L447.77 362.12M415.35 364.15L431.56 363.13M416.99 374.73L433.17 373.73M415.35 364.15L416.99 374.73M447.77 362.12L463.98 361.1M463.98 361.1L465.52 371.71M433.17 373.73L434.77 384.32" fill="none" stroke="#b9202e" stroke-width="2.2" stroke-linecap="square"/>
<polyline points="299.6,273.6 311.5,270.7 323.2,268.4 331.4,266.6 337.2,263.7 343,260.2 348.3,257.5" fill="none" stroke="#000" stroke-width="0.8" stroke-linejoin="round"/>
</g>
<rect x="299.6" y="257.6" width="274.2" height="233.6" fill="none" stroke="#000" stroke-width="0.8"/>
<text x="307.1" y="281.8" font-family="Liberation Sans, sans-serif" font-weight="bold" font-size="17.5" fill="#000">d)</text>
<text x="152.8" y="8.1" text-anchor="middle" font-family="Liberation Sans, sans-serif" font-size="10.9" fill="#000">REMO</text>
<text x="436.6" y="8.1" text-anchor="middle" font-family="Liberation Sans, sans-serif" font-size="10.9" fill="#000">RegCM</text>
<text transform="translate(8.8,132.1) rotate(-90)" text-anchor="middle" font-family="Liberation Sans, sans-serif" font-size="10.9" fill="#000">Buenos Aires (SAM-22)</text>
<text transform="translate(8.8,373.7) rotate(-90)" text-anchor="middle" font-family="Liberation Sans, sans-serif" font-size="10.9" fill="#000">Paris (EUR-11)</text>
<rect x="16" y="500.3" width="559.4" height="10.2" fill="url(#gElev)" stroke="#000" stroke-width="0.7"/>
<line x1="16" y1="510.5" x2="16" y2="513.1" stroke="#000" stroke-width="0.7"/>
<text x="16" y="521.7" text-anchor="middle" font-family="DejaVu Sans, Liberation Sans, sans-serif" font-size="9" fill="#000">0</text>
<line x1="117.71" y1="510.5" x2="117.71" y2="513.1" stroke="#000" stroke-width="0.7"/>
<text x="117.71" y="521.7" text-anchor="middle" font-family="DejaVu Sans, Liberation Sans, sans-serif" font-size="9" fill="#000">50</text>
<line x1="219.42" y1="510.5" x2="219.42" y2="513.1" stroke="#000" stroke-width="0.7"/>
<text x="219.42" y="521.7" text-anchor="middle" font-family="DejaVu Sans, Liberation Sans, sans-serif" font-size="9" fill="#000">100</text>
<line x1="321.13" y1="510.5" x2="321.13" y2="513.1" stroke="#000" stroke-width="0.7"/>
<text x="321.13" y="521.7" text-anchor="middle" font-family="DejaVu Sans, Liberation Sans, sans-serif" font-size="9" fill="#000">150</text>
<line x1="422.84" y1="510.5" x2="422.84" y2="513.1" stroke="#000" stroke-width="0.7"/>
<text x="422.84" y="521.7" text-anchor="middle" font-family="DejaVu Sans, Liberation Sans, sans-serif" font-size="9" fill="#000">200</text>
<line x1="524.55" y1="510.5" x2="524.55" y2="513.1" stroke="#000" stroke-width="0.7"/>
<text x="524.55" y="521.7" text-anchor="middle" font-family="DejaVu Sans, Liberation Sans, sans-serif" font-size="9" fill="#000">250</text>
<text x="295.7" y="534.3" text-anchor="middle" font-family="DejaVu Sans, Liberation Sans, sans-serif" font-size="10.45" fill="#000">Elevation (m)</text>
<rect x="583.6" y="14.5" width="11" height="210.33" fill="url(#gGrey)" stroke="#6a6a6a" stroke-width="0.5"/>
<rect x="583.6" y="224.83" width="11" height="23.37" fill="#fff" stroke="#000" stroke-width="0.7"/>
<path d="M583.6 224.83L594.6 248.2M594.6 224.83L583.6 248.2" stroke="#e2232d" stroke-width="0.6" fill="none"/>
<line x1="594.6" y1="224.83" x2="597.2" y2="224.83" stroke="#000" stroke-width="0.7"/>
<line x1="594.6" y1="248.2" x2="597.2" y2="248.2" stroke="#000" stroke-width="0.7"/>
<text x="599.2" y="251.5" font-family="DejaVu Sans, Liberation Sans, sans-serif" font-size="9" fill="#000">0</text>
<line x1="594.6" y1="201.46" x2="597.2" y2="201.46" stroke="#000" stroke-width="0.7"/>
<text x="599.2" y="204.76" font-family="DejaVu Sans, Liberation Sans, sans-serif" font-size="9" fill="#000">20</text>
<line x1="594.6" y1="154.72" x2="597.2" y2="154.72" stroke="#000" stroke-width="0.7"/>
<text x="599.2" y="158.02" font-family="DejaVu Sans, Liberation Sans, sans-serif" font-size="9" fill="#000">40</text>
<line x1="594.6" y1="107.98" x2="597.2" y2="107.98" stroke="#000" stroke-width="0.7"/>
<text x="599.2" y="111.28" font-family="DejaVu Sans, Liberation Sans, sans-serif" font-size="9" fill="#000">60</text>
<line x1="594.6" y1="61.24" x2="597.2" y2="61.24" stroke="#000" stroke-width="0.7"/>
<text x="599.2" y="64.54" font-family="DejaVu Sans, Liberation Sans, sans-serif" font-size="9" fill="#000">80</text>
<line x1="594.6" y1="14.5" x2="597.2" y2="14.5" stroke="#000" stroke-width="0.7"/>
<text x="599.2" y="17.8" font-family="DejaVu Sans, Liberation Sans, sans-serif" font-size="9" fill="#000">100</text>
<text transform="translate(626.4,126.55) rotate(-90)" text-anchor="middle" font-family="DejaVu Sans, Liberation Sans, sans-serif" font-size="9.92" fill="#000">Urban Fraction (%)</text>
<rect x="583.6" y="257.5" width="11" height="210.33" fill="url(#gGrey)" stroke="#6a6a6a" stroke-width="0.5"/>
<line x1="583.6" y1="397.72" x2="594.6" y2="397.72" stroke="#555" stroke-width="0.7"/>
<rect x="583.6" y="467.83" width="11" height="23.37" fill="#fff" stroke="#000" stroke-width="0.7"/>
<path d="M583.6 467.83L594.6 491.2M594.6 467.83L583.6 491.2" stroke="#e2232d" stroke-width="0.6" fill="none"/>
<line x1="594.6" y1="467.83" x2="597.2" y2="467.83" stroke="#000" stroke-width="0.7"/>
<line x1="594.6" y1="491.2" x2="597.2" y2="491.2" stroke="#000" stroke-width="0.7"/>
<text x="599.2" y="494.5" font-family="DejaVu Sans, Liberation Sans, sans-serif" font-size="9" fill="#000">0</text>
<line x1="594.6" y1="444.46" x2="597.2" y2="444.46" stroke="#000" stroke-width="0.7"/>
<text x="599.2" y="447.76" font-family="DejaVu Sans, Liberation Sans, sans-serif" font-size="9" fill="#000">20</text>
<line x1="594.6" y1="397.72" x2="597.2" y2="397.72" stroke="#000" stroke-width="0.7"/>
<text x="599.2" y="401.02" font-family="DejaVu Sans, Liberation Sans, sans-serif" font-size="9" fill="#000">40</text>
<line x1="594.6" y1="350.98" x2="597.2" y2="350.98" stroke="#000" stroke-width="0.7"/>
<text x="599.2" y="354.28" font-family="DejaVu Sans, Liberation Sans, sans-serif" font-size="9" fill="#000">60</text>
<line x1="594.6" y1="304.24" x2="597.2" y2="304.24" stroke="#000" stroke-width="0.7"/>
<text x="599.2" y="307.54" font-family="DejaVu Sans, Liberation Sans, sans-serif" font-size="9" fill="#000">80</text>
<line x1="594.6" y1="257.5" x2="597.2" y2="257.5" stroke="#000" stroke-width="0.7"/>
<text x="599.2" y="260.8" font-family="DejaVu Sans, Liberation Sans, sans-serif" font-size="9" fill="#000">100</text>
<text transform="translate(626.4,369.55) rotate(-90)" text-anchor="middle" font-family="DejaVu Sans, Liberation Sans, sans-serif" font-size="9.92" fill="#000">Urban Fraction (%)</text>
<rect x="640.5" y="186" width="10.7" height="241.5" fill="url(#gBlue)"/>
<rect x="640.5" y="82.5" width="10.7" height="103.5" fill="#fff" stroke="#000" stroke-width="0.7"/>
<rect x="640.5" y="186" width="10.7" height="241.5" fill="none" stroke="#333" stroke-width="0.5"/>
<polyline points="640.8,82.8 645.85,85.3 650.9,82.8" fill="none" stroke="#7fe33a" stroke-width="0.8"/>
<polyline points="640.8,185.6 645.85,183.1 650.9,185.6" fill="none" stroke="#7fe33a" stroke-width="0.8"/>
<line x1="651.2" y1="427.5" x2="653.8" y2="427.5" stroke="#000" stroke-width="0.7"/>
<text x="655.8" y="430.8" font-family="DejaVu Sans, Liberation Sans, sans-serif" font-size="9" fill="#000">0</text>
<line x1="651.2" y1="358.5" x2="653.8" y2="358.5" stroke="#000" stroke-width="0.7"/>
<text x="655.8" y="361.8" font-family="DejaVu Sans, Liberation Sans, sans-serif" font-size="9" fill="#000">20</text>
<line x1="651.2" y1="289.5" x2="653.8" y2="289.5" stroke="#000" stroke-width="0.7"/>
<text x="655.8" y="292.8" font-family="DejaVu Sans, Liberation Sans, sans-serif" font-size="9" fill="#000">40</text>
<line x1="651.2" y1="220.5" x2="653.8" y2="220.5" stroke="#000" stroke-width="0.7"/>
<text x="655.8" y="223.8" font-family="DejaVu Sans, Liberation Sans, sans-serif" font-size="9" fill="#000">60</text>
<line x1="651.2" y1="151.5" x2="653.8" y2="151.5" stroke="#000" stroke-width="0.7"/>
<text x="655.8" y="154.8" font-family="DejaVu Sans, Liberation Sans, sans-serif" font-size="9" fill="#000">80</text>
<line x1="651.2" y1="82.5" x2="653.8" y2="82.5" stroke="#000" stroke-width="0.7"/>
<text x="655.8" y="85.8" font-family="DejaVu Sans, Liberation Sans, sans-serif" font-size="9" fill="#000">100</text>
<text transform="translate(682.6,254.7) rotate(-90)" text-anchor="middle" font-family="DejaVu Sans, Liberation Sans, sans-serif" font-size="9.96" fill="#000">Land area fraction (%)</text>
</svg></body></html>
